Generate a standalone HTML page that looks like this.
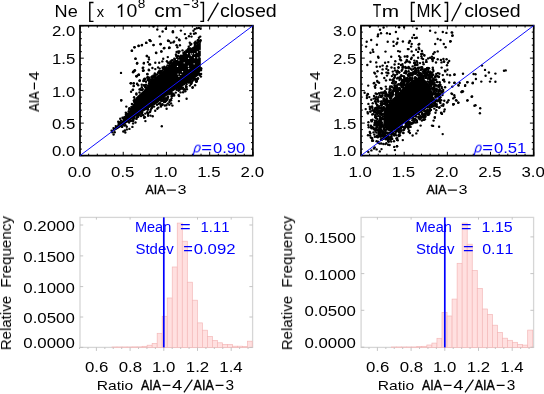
<!DOCTYPE html><html><head><meta charset="utf-8"><style>html,body{margin:0;padding:0;background:#fff;width:544px;height:394px;overflow:hidden}svg{display:block;font-family:"Liberation Sans",sans-serif;font-kerning:none;font-feature-settings:"kern" 0}text{will-change:transform}</style></head><body><svg width="544" height="394" viewBox="0 0 544 394" shape-rendering="auto">
<rect width="544" height="394" fill="#fff"/>
<path d="M80.00,155.60V151.80M80.00,25.70V29.50M88.64,155.60V153.70M88.64,25.70V27.60M97.29,155.60V153.70M97.29,25.70V27.60M105.94,155.60V153.70M105.94,25.70V27.60M114.58,155.60V153.70M114.58,25.70V27.60M123.22,155.60V151.80M123.22,25.70V29.50M131.87,155.60V153.70M131.87,25.70V27.60M140.52,155.60V153.70M140.52,25.70V27.60M149.16,155.60V153.70M149.16,25.70V27.60M157.81,155.60V153.70M157.81,25.70V27.60M166.45,155.60V151.80M166.45,25.70V29.50M175.10,155.60V153.70M175.10,25.70V27.60M183.74,155.60V153.70M183.74,25.70V27.60M192.38,155.60V153.70M192.38,25.70V27.60M201.03,155.60V153.70M201.03,25.70V27.60M209.68,155.60V151.80M209.68,25.70V29.50M218.32,155.60V153.70M218.32,25.70V27.60M226.97,155.60V153.70M226.97,25.70V27.60M235.61,155.60V153.70M235.61,25.70V27.60M244.26,155.60V153.70M244.26,25.70V27.60M252.90,155.60V151.80M252.90,25.70V29.50M80.00,155.60H83.80M252.90,155.60H249.10M80.00,149.10H81.90M252.90,149.10H251.00M80.00,142.61H81.90M252.90,142.61H251.00M80.00,136.11H81.90M252.90,136.11H251.00M80.00,129.62H81.90M252.90,129.62H251.00M80.00,123.12H83.80M252.90,123.12H249.10M80.00,116.63H81.90M252.90,116.63H251.00M80.00,110.13H81.90M252.90,110.13H251.00M80.00,103.64H81.90M252.90,103.64H251.00M80.00,97.14H81.90M252.90,97.14H251.00M80.00,90.65H83.80M252.90,90.65H249.10M80.00,84.15H81.90M252.90,84.15H251.00M80.00,77.66H81.90M252.90,77.66H251.00M80.00,71.16H81.90M252.90,71.16H251.00M80.00,64.67H81.90M252.90,64.67H251.00M80.00,58.17H83.80M252.90,58.17H249.10M80.00,51.68H81.90M252.90,51.68H251.00M80.00,45.18H81.90M252.90,45.18H251.00M80.00,38.69H81.90M252.90,38.69H251.00M80.00,32.19H81.90M252.90,32.19H251.00M80.00,25.70H83.80M252.90,25.70H249.10" stroke="#000" stroke-width="1.0" fill="none"/>
<rect x="80.0" y="25.7" width="172.90" height="129.90" fill="none" stroke="#000" stroke-width="1.7"/>
<path d="M361.00,155.60V151.80M361.00,25.60V29.40M369.63,155.60V153.70M369.63,25.60V27.50M378.27,155.60V153.70M378.27,25.60V27.50M386.91,155.60V153.70M386.91,25.60V27.50M395.54,155.60V153.70M395.54,25.60V27.50M404.18,155.60V151.80M404.18,25.60V29.40M412.81,155.60V153.70M412.81,25.60V27.50M421.45,155.60V153.70M421.45,25.60V27.50M430.08,155.60V153.70M430.08,25.60V27.50M438.72,155.60V153.70M438.72,25.60V27.50M447.35,155.60V151.80M447.35,25.60V29.40M455.99,155.60V153.70M455.99,25.60V27.50M464.62,155.60V153.70M464.62,25.60V27.50M473.25,155.60V153.70M473.25,25.60V27.50M481.89,155.60V153.70M481.89,25.60V27.50M490.53,155.60V151.80M490.53,25.60V29.40M499.16,155.60V153.70M499.16,25.60V27.50M507.80,155.60V153.70M507.80,25.60V27.50M516.43,155.60V153.70M516.43,25.60V27.50M525.07,155.60V153.70M525.07,25.60V27.50M533.70,155.60V151.80M533.70,25.60V29.40M361.00,155.60H364.80M533.70,155.60H529.90M361.00,149.10H362.90M533.70,149.10H531.80M361.00,142.60H362.90M533.70,142.60H531.80M361.00,136.10H362.90M533.70,136.10H531.80M361.00,129.60H362.90M533.70,129.60H531.80M361.00,123.10H364.80M533.70,123.10H529.90M361.00,116.60H362.90M533.70,116.60H531.80M361.00,110.10H362.90M533.70,110.10H531.80M361.00,103.60H362.90M533.70,103.60H531.80M361.00,97.10H362.90M533.70,97.10H531.80M361.00,90.60H364.80M533.70,90.60H529.90M361.00,84.10H362.90M533.70,84.10H531.80M361.00,77.60H362.90M533.70,77.60H531.80M361.00,71.10H362.90M533.70,71.10H531.80M361.00,64.60H362.90M533.70,64.60H531.80M361.00,58.10H364.80M533.70,58.10H529.90M361.00,51.60H362.90M533.70,51.60H531.80M361.00,45.10H362.90M533.70,45.10H531.80M361.00,38.60H362.90M533.70,38.60H531.80M361.00,32.10H362.90M533.70,32.10H531.80M361.00,25.60H364.80M533.70,25.60H529.90" stroke="#000" stroke-width="1.0" fill="none"/>
<rect x="361.0" y="25.6" width="172.70" height="130.00" fill="none" stroke="#000" stroke-width="1.7"/>
<g fill="#000"><circle cx="149.2" cy="81.4" r="1.2"/><circle cx="186.2" cy="87.2" r="1.2"/><circle cx="133.1" cy="123.4" r="1.2"/><circle cx="149.0" cy="83.7" r="1.2"/><circle cx="139.8" cy="114.7" r="1.2"/><circle cx="183.0" cy="87.8" r="1.2"/><circle cx="197.1" cy="42.8" r="1.2"/><circle cx="126.1" cy="114.9" r="1.2"/><circle cx="152.8" cy="79.4" r="1.2"/><circle cx="179.5" cy="89.1" r="1.2"/><circle cx="129.1" cy="122.5" r="1.2"/><circle cx="195.2" cy="43.3" r="1.2"/><circle cx="167.1" cy="98.3" r="1.2"/><circle cx="166.9" cy="61.2" r="1.2"/><circle cx="179.9" cy="88.1" r="1.2"/><circle cx="150.9" cy="81.5" r="1.2"/><circle cx="152.9" cy="79.5" r="1.2"/><circle cx="196.0" cy="79.0" r="1.2"/><circle cx="184.9" cy="89.3" r="1.2"/><circle cx="201.1" cy="74.0" r="1.2"/><circle cx="151.6" cy="108.2" r="1.2"/><circle cx="147.6" cy="112.6" r="1.2"/><circle cx="160.6" cy="71.1" r="1.2"/><circle cx="178.6" cy="95.0" r="1.2"/><circle cx="167.7" cy="103.6" r="1.2"/><circle cx="125.5" cy="125.3" r="1.2"/><circle cx="168.5" cy="62.9" r="1.2"/><circle cx="142.4" cy="114.9" r="1.2"/><circle cx="132.7" cy="120.0" r="1.2"/><circle cx="165.3" cy="68.5" r="1.2"/><circle cx="134.3" cy="101.9" r="1.2"/><circle cx="162.3" cy="104.9" r="1.2"/><circle cx="165.5" cy="68.4" r="1.2"/><circle cx="194.4" cy="79.2" r="1.2"/><circle cx="134.7" cy="99.2" r="1.2"/><circle cx="169.0" cy="65.8" r="1.2"/><circle cx="179.4" cy="89.9" r="1.2"/><circle cx="170.5" cy="61.5" r="1.2"/><circle cx="198.3" cy="42.0" r="1.2"/><circle cx="171.5" cy="92.4" r="1.2"/><circle cx="191.0" cy="83.9" r="1.2"/><circle cx="158.1" cy="72.8" r="1.2"/><circle cx="134.3" cy="117.9" r="1.2"/><circle cx="133.1" cy="120.9" r="1.2"/><circle cx="166.3" cy="105.2" r="1.2"/><circle cx="165.0" cy="100.1" r="1.2"/><circle cx="161.0" cy="106.5" r="1.2"/><circle cx="161.8" cy="126.3" r="1.2"/><circle cx="183.1" cy="92.3" r="1.2"/><circle cx="175.8" cy="92.6" r="1.2"/><circle cx="151.5" cy="80.8" r="1.2"/><circle cx="174.3" cy="58.8" r="1.2"/><circle cx="164.4" cy="68.3" r="1.2"/><circle cx="162.2" cy="100.3" r="1.2"/><circle cx="128.7" cy="111.3" r="1.2"/><circle cx="147.5" cy="85.6" r="1.2"/><circle cx="154.1" cy="106.6" r="1.2"/><circle cx="144.7" cy="85.8" r="1.2"/><circle cx="195.1" cy="44.1" r="1.2"/><circle cx="129.1" cy="108.9" r="1.2"/><circle cx="138.2" cy="115.9" r="1.2"/><circle cx="145.4" cy="121.1" r="1.2"/><circle cx="201.1" cy="68.2" r="1.2"/><circle cx="169.5" cy="94.0" r="1.2"/><circle cx="149.3" cy="79.8" r="1.2"/><circle cx="138.4" cy="115.1" r="1.2"/><circle cx="190.3" cy="48.4" r="1.2"/><circle cx="141.8" cy="90.0" r="1.2"/><circle cx="170.5" cy="61.9" r="1.2"/><circle cx="159.1" cy="71.6" r="1.2"/><circle cx="124.2" cy="125.5" r="1.2"/><circle cx="119.1" cy="122.9" r="1.2"/><circle cx="158.4" cy="107.6" r="1.2"/><circle cx="159.9" cy="73.6" r="1.2"/><circle cx="180.5" cy="92.4" r="1.2"/><circle cx="159.2" cy="71.5" r="1.2"/><circle cx="166.6" cy="67.6" r="1.2"/><circle cx="190.4" cy="44.9" r="1.2"/><circle cx="151.7" cy="80.3" r="1.2"/><circle cx="158.9" cy="71.7" r="1.2"/><circle cx="122.5" cy="117.8" r="1.2"/><circle cx="121.0" cy="120.7" r="1.2"/><circle cx="201.2" cy="69.1" r="1.2"/><circle cx="187.8" cy="49.8" r="1.2"/><circle cx="171.0" cy="93.5" r="1.2"/><circle cx="161.0" cy="72.5" r="1.2"/><circle cx="119.6" cy="122.4" r="1.2"/><circle cx="199.7" cy="75.3" r="1.2"/><circle cx="126.0" cy="114.6" r="1.2"/><circle cx="134.3" cy="101.3" r="1.2"/><circle cx="186.4" cy="50.7" r="1.2"/><circle cx="169.6" cy="65.1" r="1.2"/><circle cx="178.3" cy="88.6" r="1.2"/><circle cx="159.2" cy="72.0" r="1.2"/><circle cx="192.7" cy="87.2" r="1.2"/><circle cx="111.6" cy="130.7" r="1.2"/><circle cx="167.4" cy="99.2" r="1.2"/><circle cx="160.3" cy="103.4" r="1.2"/><circle cx="143.2" cy="115.2" r="1.2"/><circle cx="136.5" cy="118.0" r="1.2"/><circle cx="158.7" cy="103.8" r="1.2"/><circle cx="130.5" cy="120.9" r="1.2"/><circle cx="188.1" cy="49.7" r="1.2"/><circle cx="147.9" cy="62.1" r="1.2"/><circle cx="162.5" cy="104.2" r="1.2"/><circle cx="155.3" cy="74.7" r="1.2"/><circle cx="123.4" cy="118.5" r="1.2"/><circle cx="122.1" cy="126.9" r="1.2"/><circle cx="155.2" cy="75.4" r="1.2"/><circle cx="171.4" cy="62.4" r="1.2"/><circle cx="156.7" cy="74.6" r="1.2"/><circle cx="133.8" cy="100.6" r="1.2"/><circle cx="197.7" cy="79.1" r="1.2"/><circle cx="154.8" cy="73.5" r="1.2"/><circle cx="197.8" cy="40.2" r="1.2"/><circle cx="137.2" cy="115.7" r="1.2"/><circle cx="176.6" cy="89.8" r="1.2"/><circle cx="114.7" cy="132.3" r="1.2"/><circle cx="171.4" cy="96.1" r="1.2"/><circle cx="195.5" cy="41.7" r="1.2"/><circle cx="164.3" cy="66.7" r="1.2"/><circle cx="161.7" cy="100.0" r="1.2"/><circle cx="178.6" cy="53.0" r="1.2"/><circle cx="196.9" cy="79.8" r="1.2"/><circle cx="170.0" cy="63.5" r="1.2"/><circle cx="179.8" cy="88.9" r="1.2"/><circle cx="157.0" cy="104.7" r="1.2"/><circle cx="144.4" cy="85.6" r="1.2"/><circle cx="195.3" cy="43.5" r="1.2"/><circle cx="142.8" cy="89.1" r="1.2"/><circle cx="149.9" cy="112.1" r="1.2"/><circle cx="185.9" cy="86.1" r="1.2"/><circle cx="141.0" cy="116.1" r="1.2"/><circle cx="124.9" cy="117.0" r="1.2"/><circle cx="191.3" cy="43.9" r="1.2"/><circle cx="174.2" cy="95.6" r="1.2"/><circle cx="195.3" cy="43.2" r="1.2"/><circle cx="133.4" cy="119.7" r="1.2"/><circle cx="163.2" cy="99.7" r="1.2"/><circle cx="118.5" cy="124.1" r="1.2"/><circle cx="200.9" cy="70.2" r="1.2"/><circle cx="132.7" cy="104.4" r="1.2"/><circle cx="191.4" cy="83.3" r="1.2"/><circle cx="162.6" cy="67.4" r="1.2"/><circle cx="167.9" cy="96.5" r="1.2"/><circle cx="163.1" cy="100.8" r="1.2"/><circle cx="188.7" cy="46.7" r="1.2"/><circle cx="150.5" cy="115.6" r="1.2"/><circle cx="163.6" cy="68.5" r="1.2"/><circle cx="161.0" cy="71.4" r="1.2"/><circle cx="159.9" cy="103.3" r="1.2"/><circle cx="141.9" cy="113.4" r="1.2"/><circle cx="171.8" cy="94.0" r="1.2"/><circle cx="171.6" cy="60.5" r="1.2"/><circle cx="192.7" cy="80.8" r="1.2"/><circle cx="130.0" cy="109.0" r="1.2"/><circle cx="126.8" cy="126.8" r="1.2"/><circle cx="113.5" cy="128.1" r="1.2"/><circle cx="140.4" cy="89.2" r="1.2"/><circle cx="163.5" cy="98.9" r="1.2"/><circle cx="196.3" cy="81.9" r="1.2"/><circle cx="115.8" cy="126.1" r="1.2"/><circle cx="199.7" cy="74.0" r="1.2"/><circle cx="157.4" cy="74.4" r="1.2"/><circle cx="148.2" cy="113.8" r="1.2"/><circle cx="136.4" cy="118.9" r="1.2"/><circle cx="162.3" cy="61.4" r="1.2"/><circle cx="152.1" cy="76.4" r="1.2"/><circle cx="180.2" cy="88.5" r="1.2"/><circle cx="149.4" cy="77.8" r="1.2"/><circle cx="168.0" cy="97.1" r="1.2"/><circle cx="200.9" cy="76.6" r="1.2"/><circle cx="170.5" cy="63.2" r="1.2"/><circle cx="153.5" cy="75.5" r="1.2"/><circle cx="145.5" cy="86.4" r="1.2"/><circle cx="149.9" cy="82.7" r="1.2"/><circle cx="177.4" cy="56.3" r="1.2"/><circle cx="181.0" cy="55.7" r="1.2"/><circle cx="143.3" cy="81.0" r="1.2"/><circle cx="142.2" cy="112.4" r="1.2"/><circle cx="136.4" cy="94.6" r="1.2"/><circle cx="165.2" cy="98.7" r="1.2"/><circle cx="165.0" cy="98.1" r="1.2"/><circle cx="197.0" cy="43.6" r="1.2"/><circle cx="195.8" cy="80.7" r="1.2"/><circle cx="164.9" cy="101.9" r="1.2"/><circle cx="174.0" cy="94.4" r="1.2"/><circle cx="163.0" cy="68.5" r="1.2"/><circle cx="150.2" cy="111.4" r="1.2"/><circle cx="179.4" cy="56.7" r="1.2"/><circle cx="200.6" cy="40.2" r="1.2"/><circle cx="191.7" cy="82.3" r="1.2"/><circle cx="131.6" cy="120.7" r="1.2"/><circle cx="155.0" cy="76.5" r="1.2"/><circle cx="181.1" cy="87.5" r="1.2"/><circle cx="124.4" cy="117.1" r="1.2"/><circle cx="177.1" cy="57.9" r="1.2"/><circle cx="170.7" cy="99.8" r="1.2"/><circle cx="137.1" cy="117.1" r="1.2"/><circle cx="131.4" cy="106.9" r="1.2"/><circle cx="167.6" cy="97.8" r="1.2"/><circle cx="164.9" cy="101.2" r="1.2"/><circle cx="164.8" cy="105.5" r="1.2"/><circle cx="167.8" cy="62.5" r="1.2"/><circle cx="172.6" cy="60.2" r="1.2"/><circle cx="192.5" cy="87.8" r="1.2"/><circle cx="149.9" cy="82.6" r="1.2"/><circle cx="155.2" cy="110.8" r="1.2"/><circle cx="139.5" cy="92.5" r="1.2"/><circle cx="189.4" cy="48.8" r="1.2"/><circle cx="176.7" cy="58.2" r="1.2"/><circle cx="184.8" cy="52.0" r="1.2"/><circle cx="173.4" cy="94.9" r="1.2"/><circle cx="172.4" cy="94.0" r="1.2"/><circle cx="139.1" cy="114.5" r="1.2"/><circle cx="189.0" cy="82.4" r="1.2"/><circle cx="148.3" cy="79.1" r="1.2"/><circle cx="151.5" cy="76.9" r="1.2"/><circle cx="186.9" cy="89.3" r="1.2"/><circle cx="148.1" cy="115.8" r="1.2"/><circle cx="146.0" cy="84.6" r="1.2"/><circle cx="149.9" cy="82.5" r="1.2"/><circle cx="145.2" cy="79.0" r="1.2"/><circle cx="147.6" cy="80.1" r="1.2"/><circle cx="169.8" cy="100.7" r="1.2"/><circle cx="186.7" cy="50.9" r="1.2"/><circle cx="141.8" cy="87.2" r="1.2"/><circle cx="199.6" cy="40.7" r="1.2"/><circle cx="188.5" cy="49.0" r="1.2"/><circle cx="178.9" cy="101.1" r="1.2"/><circle cx="176.0" cy="54.5" r="1.2"/><circle cx="174.9" cy="59.6" r="1.2"/><circle cx="134.1" cy="97.2" r="1.2"/><circle cx="181.3" cy="87.0" r="1.2"/><circle cx="188.7" cy="49.1" r="1.2"/><circle cx="141.8" cy="89.9" r="1.2"/><circle cx="133.3" cy="118.9" r="1.2"/><circle cx="123.7" cy="118.8" r="1.2"/><circle cx="188.9" cy="82.4" r="1.2"/><circle cx="152.0" cy="79.4" r="1.2"/><circle cx="147.9" cy="109.0" r="1.2"/><circle cx="190.5" cy="81.8" r="1.2"/><circle cx="161.5" cy="101.1" r="1.2"/><circle cx="138.2" cy="116.7" r="1.2"/><circle cx="186.5" cy="86.6" r="1.2"/><circle cx="163.9" cy="69.6" r="1.2"/><circle cx="161.2" cy="100.8" r="1.2"/><circle cx="153.3" cy="77.3" r="1.2"/><circle cx="182.5" cy="50.4" r="1.2"/><circle cx="179.5" cy="51.5" r="1.2"/><circle cx="183.4" cy="53.0" r="1.2"/><circle cx="165.9" cy="101.1" r="1.2"/><circle cx="145.5" cy="87.2" r="1.2"/><circle cx="147.9" cy="113.7" r="1.2"/><circle cx="189.9" cy="85.6" r="1.2"/><circle cx="162.2" cy="70.8" r="1.2"/><circle cx="186.7" cy="84.1" r="1.2"/><circle cx="147.5" cy="109.6" r="1.2"/><circle cx="191.2" cy="81.5" r="1.2"/><circle cx="152.3" cy="78.1" r="1.2"/><circle cx="199.7" cy="74.0" r="1.2"/><circle cx="161.5" cy="100.3" r="1.2"/><circle cx="173.2" cy="93.7" r="1.2"/><circle cx="171.7" cy="98.1" r="1.2"/><circle cx="167.5" cy="65.5" r="1.2"/><circle cx="181.8" cy="87.8" r="1.2"/><circle cx="166.3" cy="67.3" r="1.2"/><circle cx="169.3" cy="93.9" r="1.2"/><circle cx="150.8" cy="109.8" r="1.2"/><circle cx="195.1" cy="85.3" r="1.2"/><circle cx="126.9" cy="113.5" r="1.2"/><circle cx="144.0" cy="80.9" r="1.2"/><circle cx="145.6" cy="87.4" r="1.2"/><circle cx="178.3" cy="89.9" r="1.2"/><circle cx="150.5" cy="79.4" r="1.2"/><circle cx="194.5" cy="42.9" r="1.2"/><circle cx="159.7" cy="68.6" r="1.2"/><circle cx="147.3" cy="112.3" r="1.2"/><circle cx="182.0" cy="88.7" r="1.2"/><circle cx="146.0" cy="81.8" r="1.2"/><circle cx="154.3" cy="77.0" r="1.2"/><circle cx="120.2" cy="122.5" r="1.2"/><circle cx="152.7" cy="116.3" r="1.2"/><circle cx="112.3" cy="132.2" r="1.2"/><circle cx="194.8" cy="45.1" r="1.2"/><circle cx="178.2" cy="56.1" r="1.2"/><circle cx="154.5" cy="77.3" r="1.2"/><circle cx="185.3" cy="91.3" r="1.2"/><circle cx="131.9" cy="103.9" r="1.2"/><circle cx="176.1" cy="55.8" r="1.2"/><circle cx="149.5" cy="40.1" r="1.2"/><circle cx="146.4" cy="42.9" r="1.2"/><circle cx="141.8" cy="45.3" r="1.2"/><circle cx="138.6" cy="46.0" r="1.2"/><circle cx="134.5" cy="47.3" r="1.2"/><circle cx="131.7" cy="50.8" r="1.2"/><circle cx="147.0" cy="56.0" r="1.2"/><circle cx="148.8" cy="57.4" r="1.2"/><circle cx="135.5" cy="58.8" r="1.2"/><circle cx="137.2" cy="63.0" r="1.2"/><circle cx="143.9" cy="63.0" r="1.2"/><circle cx="149.2" cy="64.4" r="1.2"/><circle cx="143.2" cy="67.6" r="1.2"/><circle cx="143.6" cy="70.4" r="1.2"/><circle cx="148.8" cy="69.7" r="1.2"/><circle cx="134.1" cy="71.1" r="1.2"/><circle cx="133.1" cy="72.2" r="1.2"/><circle cx="121.0" cy="72.9" r="1.2"/><circle cx="147.4" cy="73.9" r="1.2"/><circle cx="138.3" cy="75.0" r="1.2"/><circle cx="136.6" cy="76.3" r="1.2"/><circle cx="144.6" cy="78.8" r="1.2"/><circle cx="147.8" cy="77.0" r="1.2"/><circle cx="121.2" cy="100.5" r="1.2"/><circle cx="113.6" cy="134.5" r="1.2"/><circle cx="123.3" cy="131.5" r="1.2"/><circle cx="124.8" cy="130.5" r="1.2"/><circle cx="129.4" cy="128.9" r="1.2"/><circle cx="132.4" cy="126.9" r="1.2"/><circle cx="135.5" cy="122.5" r="1.2"/><circle cx="128.4" cy="121.8" r="1.2"/><circle cx="144.1" cy="117.8" r="1.2"/><circle cx="125.3" cy="132.5" r="1.2"/><circle cx="126.8" cy="129.4" r="1.2"/><circle cx="126.3" cy="106.6" r="1.2"/><circle cx="129.4" cy="108.1" r="1.2"/><circle cx="125.8" cy="112.7" r="1.2"/><circle cx="120.2" cy="118.8" r="1.2"/><circle cx="118.2" cy="121.8" r="1.2"/><circle cx="196.8" cy="81.1" r="1.2"/><circle cx="198.0" cy="78.3" r="1.2"/><circle cx="194.0" cy="79.4" r="1.2"/><circle cx="183.7" cy="89.7" r="1.2"/><circle cx="178.6" cy="90.8" r="1.2"/><circle cx="179.1" cy="96.0" r="1.2"/><circle cx="186.6" cy="98.8" r="1.2"/><circle cx="172.3" cy="95.4" r="1.2"/><circle cx="170.6" cy="100.0" r="1.2"/><circle cx="171.1" cy="103.4" r="1.2"/><circle cx="132.0" cy="50.8" r="1.2"/><circle cx="134.5" cy="47.3" r="1.2"/><circle cx="138.6" cy="45.7" r="1.2"/><circle cx="142.0" cy="45.0" r="1.2"/><circle cx="146.1" cy="42.8" r="1.2"/><circle cx="149.8" cy="40.1" r="1.2"/><circle cx="150.6" cy="41.1" r="1.2"/><circle cx="153.5" cy="45.0" r="1.2"/><circle cx="157.3" cy="29.5" r="1.2"/><circle cx="162.6" cy="31.5" r="1.2"/><circle cx="159.7" cy="36.4" r="1.2"/><circle cx="166.0" cy="28.7" r="1.2"/><circle cx="168.0" cy="40.7" r="1.2"/><circle cx="160.6" cy="44.2" r="1.2"/><circle cx="163.9" cy="48.2" r="1.2"/><circle cx="169.3" cy="47.7" r="1.2"/><circle cx="161.4" cy="51.5" r="1.2"/><circle cx="156.3" cy="53.0" r="1.2"/><circle cx="153.5" cy="26.5" r="1.2"/><circle cx="172.9" cy="31.2" r="1.2"/><circle cx="172.9" cy="32.3" r="1.2"/><circle cx="180.9" cy="30.6" r="1.2"/><circle cx="165.8" cy="28.7" r="1.2"/><circle cx="176.6" cy="37.6" r="1.2"/><circle cx="179.1" cy="39.5" r="1.2"/><circle cx="179.5" cy="40.3" r="1.2"/><circle cx="168.3" cy="40.7" r="1.2"/><circle cx="170.8" cy="42.8" r="1.2"/><circle cx="173.3" cy="42.4" r="1.2"/><circle cx="174.1" cy="41.5" r="1.2"/><circle cx="169.5" cy="47.7" r="1.2"/><circle cx="176.6" cy="45.3" r="1.2"/><circle cx="179.9" cy="45.3" r="1.2"/><circle cx="177.4" cy="47.3" r="1.2"/><circle cx="176.6" cy="51.9" r="1.2"/><circle cx="178.2" cy="51.5" r="1.2"/><circle cx="184.9" cy="34.1" r="1.2"/><circle cx="186.1" cy="38.2" r="1.2"/><circle cx="189.0" cy="36.2" r="1.2"/><circle cx="190.6" cy="33.7" r="1.2"/><circle cx="191.5" cy="36.6" r="1.2"/><circle cx="193.5" cy="30.8" r="1.2"/><circle cx="194.8" cy="29.1" r="1.2"/><circle cx="196.8" cy="28.3" r="1.2"/><circle cx="198.9" cy="27.9" r="1.2"/><circle cx="200.6" cy="28.7" r="1.2"/><circle cx="194.0" cy="33.7" r="1.2"/><circle cx="195.6" cy="33.3" r="1.2"/><circle cx="189.8" cy="42.8" r="1.2"/><circle cx="200.2" cy="36.6" r="1.2"/><circle cx="198.9" cy="37.8" r="1.2"/><circle cx="198.1" cy="40.3" r="1.2"/><circle cx="200.2" cy="41.5" r="1.2"/><circle cx="135.5" cy="58.7" r="1.2"/><circle cx="137.1" cy="63.4" r="1.2"/><circle cx="143.0" cy="70.8" r="1.2"/><circle cx="135.0" cy="70.5" r="1.2"/><circle cx="133.0" cy="71.9" r="1.2"/><circle cx="138.9" cy="74.7" r="1.2"/><circle cx="136.8" cy="76.0" r="1.2"/><circle cx="139.5" cy="80.7" r="1.2"/><circle cx="143.9" cy="79.4" r="1.2"/><circle cx="130.9" cy="83.2" r="1.2"/><circle cx="133.7" cy="83.2" r="1.2"/><circle cx="133.7" cy="86.1" r="1.2"/><circle cx="137.1" cy="83.8" r="1.2"/><circle cx="138.2" cy="85.2" r="1.2"/><circle cx="141.7" cy="84.7" r="1.2"/><circle cx="143.9" cy="85.2" r="1.2"/><circle cx="133.0" cy="89.6" r="1.2"/><circle cx="140.4" cy="89.6" r="1.2"/><circle cx="133.7" cy="85.9" r="1.2"/><circle cx="131.1" cy="91.7" r="1.2"/><circle cx="132.8" cy="89.9" r="1.2"/><circle cx="121.3" cy="100.1" r="1.2"/><circle cx="136.4" cy="93.4" r="1.2"/><circle cx="139.5" cy="89.4" r="1.2"/><circle cx="144.4" cy="117.0" r="1.2"/><circle cx="145.3" cy="113.6" r="1.2"/><circle cx="144.9" cy="117.2" r="1.2"/><circle cx="141.3" cy="113.6" r="1.2"/><circle cx="157.3" cy="108.8" r="1.2"/><circle cx="160.9" cy="105.2" r="1.2"/><circle cx="166.6" cy="108.8" r="1.2"/><circle cx="169.3" cy="104.8" r="1.2"/><circle cx="172.4" cy="105.6" r="1.2"/><circle cx="171.1" cy="100.3" r="1.2"/><circle cx="172.4" cy="95.9" r="1.2"/><circle cx="179.0" cy="95.9" r="1.2"/><circle cx="166.6" cy="100.3" r="1.2"/><circle cx="164.0" cy="102.1" r="1.2"/><circle cx="169.3" cy="102.1" r="1.2"/><circle cx="148.0" cy="109.6" r="1.2"/><circle cx="152.4" cy="107.0" r="1.2"/><circle cx="146.7" cy="56.0" r="1.2"/><circle cx="149.0" cy="59.4" r="1.2"/><circle cx="137.0" cy="63.4" r="1.2"/><circle cx="143.8" cy="63.4" r="1.2"/><circle cx="150.1" cy="64.5" r="1.2"/><circle cx="155.3" cy="62.8" r="1.2"/><circle cx="159.2" cy="62.8" r="1.2"/><circle cx="163.2" cy="58.8" r="1.2"/><circle cx="167.8" cy="57.1" r="1.2"/><circle cx="142.7" cy="68.0" r="1.2"/><circle cx="143.3" cy="70.6" r="1.2"/><circle cx="133.6" cy="71.4" r="1.2"/><circle cx="134.7" cy="70.3" r="1.2"/><circle cx="138.7" cy="74.8" r="1.2"/><circle cx="136.4" cy="76.3" r="1.2"/><circle cx="147.3" cy="74.2" r="1.2"/><circle cx="149.0" cy="70.3" r="1.2"/><circle cx="152.4" cy="68.0" r="1.2"/><circle cx="155.3" cy="69.1" r="1.2"/><circle cx="158.1" cy="67.4" r="1.2"/><circle cx="139.8" cy="80.5" r="1.2"/><circle cx="130.7" cy="83.2" r="1.2"/><circle cx="133.6" cy="83.4" r="1.2"/><circle cx="137.0" cy="84.0" r="1.2"/><circle cx="144.4" cy="80.0" r="1.2"/><circle cx="149.0" cy="80.0" r="1.2"/><circle cx="147.3" cy="77.7" r="1.2"/><circle cx="156.0" cy="52.8" r="1.2"/><circle cx="161.3" cy="51.4" r="1.2"/><circle cx="160.6" cy="44.0" r="1.2"/><circle cx="164.4" cy="48.0" r="1.2"/><circle cx="169.0" cy="41.1" r="1.2"/><circle cx="169.0" cy="48.0" r="1.2"/><circle cx="153.5" cy="45.1" r="1.2"/><circle cx="150.3" cy="40.9" r="1.2"/><circle cx="196.9" cy="81.1" r="1.2"/><path d="M111.0,131.5L113.5,128.5L117.5,125.0L121.5,121.5L124.5,118.0L127.5,113.5L130.5,108.5L133.7,103.5L136.0,97.5L139.1,94.5L143.0,91.0L147.2,86.2L151.2,81.2L155.3,77.1L160.4,73.5L165.0,69.0L170.0,65.0L173.1,61.0L178.2,58.0L183.0,54.0L188.3,50.0L193.4,46.5L198.5,43.0L200.8,41.0L200.8,70.0L198.5,75.5L194.0,79.0L189.4,82.0L184.8,85.0L180.3,87.5L175.0,90.0L170.5,93.0L166.5,96.0L161.3,99.9L157.7,103.0L153.3,106.1L148.9,108.3L144.4,111.0L140.0,113.5L135.5,116.8L130.4,120.3L125.3,123.9L120.2,127.4L115.2,130.5L112.1,132.0Z" fill="#000"/><circle cx="191.3" cy="55.5" r="0.65" fill="#fff"/><circle cx="197.4" cy="52.0" r="0.65" fill="#fff"/><circle cx="200.4" cy="57.0" r="0.65" fill="#fff"/><circle cx="178.9" cy="60.1" r="0.65" fill="#fff"/><circle cx="188.4" cy="66.2" r="0.65" fill="#fff"/><circle cx="187.4" cy="53.6" r="0.65" fill="#fff"/><circle cx="176.6" cy="59.4" r="0.65" fill="#fff"/><circle cx="177.5" cy="66.4" r="0.65" fill="#fff"/><circle cx="194.5" cy="57.7" r="0.65" fill="#fff"/><circle cx="182.5" cy="71.7" r="0.65" fill="#fff"/><circle cx="192.3" cy="53.8" r="0.65" fill="#fff"/><circle cx="188.6" cy="58.3" r="0.65" fill="#fff"/><circle cx="178.0" cy="74.1" r="0.65" fill="#fff"/><circle cx="188.7" cy="68.5" r="0.65" fill="#fff"/><circle cx="197.7" cy="57.8" r="0.65" fill="#fff"/><circle cx="180.8" cy="74.3" r="0.65" fill="#fff"/><circle cx="178.9" cy="76.3" r="0.65" fill="#fff"/><circle cx="194.1" cy="63.8" r="0.65" fill="#fff"/><circle cx="200.1" cy="50.3" r="0.65" fill="#fff"/><circle cx="194.7" cy="53.6" r="0.65" fill="#fff"/><circle cx="184.2" cy="62.8" r="0.65" fill="#fff"/><circle cx="190.7" cy="54.0" r="0.65" fill="#fff"/><circle cx="371.9" cy="120.9" r="1.2"/><circle cx="394.6" cy="89.6" r="1.2"/><circle cx="379.7" cy="135.8" r="1.2"/><circle cx="411.7" cy="73.5" r="1.2"/><circle cx="403.5" cy="130.1" r="1.2"/><circle cx="406.0" cy="73.4" r="1.2"/><circle cx="406.6" cy="126.5" r="1.2"/><circle cx="387.6" cy="139.0" r="1.2"/><circle cx="405.0" cy="127.7" r="1.2"/><circle cx="388.3" cy="138.9" r="1.2"/><circle cx="373.0" cy="140.8" r="1.2"/><circle cx="439.5" cy="107.3" r="1.2"/><circle cx="443.2" cy="89.9" r="1.2"/><circle cx="389.4" cy="95.3" r="1.2"/><circle cx="375.8" cy="129.5" r="1.2"/><circle cx="410.1" cy="75.0" r="1.2"/><circle cx="385.9" cy="139.2" r="1.2"/><circle cx="437.5" cy="82.0" r="1.2"/><circle cx="400.3" cy="77.7" r="1.2"/><circle cx="409.1" cy="126.2" r="1.2"/><circle cx="394.2" cy="146.9" r="1.2"/><circle cx="390.7" cy="137.0" r="1.2"/><circle cx="431.3" cy="75.2" r="1.2"/><circle cx="425.3" cy="114.0" r="1.2"/><circle cx="429.0" cy="68.3" r="1.2"/><circle cx="415.4" cy="73.7" r="1.2"/><circle cx="441.1" cy="112.8" r="1.2"/><circle cx="439.6" cy="89.2" r="1.2"/><circle cx="372.1" cy="140.8" r="1.2"/><circle cx="370.3" cy="133.3" r="1.2"/><circle cx="440.0" cy="84.4" r="1.2"/><circle cx="412.6" cy="135.5" r="1.2"/><circle cx="409.3" cy="125.3" r="1.2"/><circle cx="400.6" cy="84.8" r="1.2"/><circle cx="438.4" cy="93.6" r="1.2"/><circle cx="374.8" cy="86.5" r="1.2"/><circle cx="376.5" cy="110.3" r="1.2"/><circle cx="421.3" cy="67.3" r="1.2"/><circle cx="428.1" cy="69.7" r="1.2"/><circle cx="393.4" cy="91.5" r="1.2"/><circle cx="373.7" cy="128.1" r="1.2"/><circle cx="427.7" cy="72.5" r="1.2"/><circle cx="411.8" cy="69.8" r="1.2"/><circle cx="388.7" cy="141.2" r="1.2"/><circle cx="382.2" cy="92.7" r="1.2"/><circle cx="368.4" cy="103.9" r="1.2"/><circle cx="428.0" cy="111.9" r="1.2"/><circle cx="377.8" cy="100.2" r="1.2"/><circle cx="435.8" cy="104.9" r="1.2"/><circle cx="399.4" cy="78.4" r="1.2"/><circle cx="430.3" cy="71.7" r="1.2"/><circle cx="375.5" cy="112.3" r="1.2"/><circle cx="389.8" cy="89.9" r="1.2"/><circle cx="423.1" cy="59.1" r="1.2"/><circle cx="402.2" cy="80.6" r="1.2"/><circle cx="376.0" cy="99.5" r="1.2"/><circle cx="406.9" cy="126.1" r="1.2"/><circle cx="405.8" cy="78.6" r="1.2"/><circle cx="408.9" cy="42.8" r="1.2"/><circle cx="387.4" cy="139.0" r="1.2"/><circle cx="409.4" cy="75.2" r="1.2"/><circle cx="378.9" cy="111.0" r="1.2"/><circle cx="405.8" cy="68.2" r="1.2"/><circle cx="391.7" cy="138.3" r="1.2"/><circle cx="386.4" cy="99.9" r="1.2"/><circle cx="429.4" cy="74.8" r="1.2"/><circle cx="378.0" cy="101.5" r="1.2"/><circle cx="404.2" cy="127.8" r="1.2"/><circle cx="385.7" cy="100.2" r="1.2"/><circle cx="394.0" cy="134.9" r="1.2"/><circle cx="408.9" cy="125.7" r="1.2"/><circle cx="376.6" cy="122.6" r="1.2"/><circle cx="404.5" cy="77.4" r="1.2"/><circle cx="401.9" cy="75.9" r="1.2"/><circle cx="373.5" cy="132.4" r="1.2"/><circle cx="376.6" cy="120.8" r="1.2"/><circle cx="394.3" cy="135.6" r="1.2"/><circle cx="379.8" cy="95.3" r="1.2"/><circle cx="398.7" cy="63.9" r="1.2"/><circle cx="421.9" cy="69.2" r="1.2"/><circle cx="405.9" cy="79.6" r="1.2"/><circle cx="390.4" cy="138.8" r="1.2"/><circle cx="410.5" cy="73.1" r="1.2"/><circle cx="439.0" cy="97.1" r="1.2"/><circle cx="417.4" cy="62.7" r="1.2"/><circle cx="418.9" cy="118.2" r="1.2"/><circle cx="393.2" cy="83.4" r="1.2"/><circle cx="366.9" cy="98.0" r="1.2"/><circle cx="413.8" cy="73.4" r="1.2"/><circle cx="401.0" cy="78.7" r="1.2"/><circle cx="375.2" cy="122.5" r="1.2"/><circle cx="438.5" cy="96.7" r="1.2"/><circle cx="386.7" cy="98.2" r="1.2"/><circle cx="394.7" cy="86.8" r="1.2"/><circle cx="445.0" cy="70.8" r="1.2"/><circle cx="426.5" cy="73.1" r="1.2"/><circle cx="442.2" cy="92.5" r="1.2"/><circle cx="403.0" cy="80.0" r="1.2"/><circle cx="387.9" cy="139.8" r="1.2"/><circle cx="410.4" cy="123.2" r="1.2"/><circle cx="396.2" cy="86.7" r="1.2"/><circle cx="385.2" cy="93.8" r="1.2"/><circle cx="395.1" cy="89.8" r="1.2"/><circle cx="374.9" cy="120.8" r="1.2"/><circle cx="424.2" cy="55.1" r="1.2"/><circle cx="412.6" cy="66.4" r="1.2"/><circle cx="390.6" cy="95.8" r="1.2"/><circle cx="438.6" cy="92.4" r="1.2"/><circle cx="391.4" cy="139.0" r="1.2"/><circle cx="383.4" cy="92.5" r="1.2"/><circle cx="378.5" cy="132.1" r="1.2"/><circle cx="439.8" cy="84.6" r="1.2"/><circle cx="386.6" cy="94.4" r="1.2"/><circle cx="385.2" cy="95.6" r="1.2"/><circle cx="437.5" cy="89.6" r="1.2"/><circle cx="378.5" cy="97.3" r="1.2"/><circle cx="394.6" cy="64.5" r="1.2"/><circle cx="398.5" cy="67.2" r="1.2"/><circle cx="433.6" cy="120.6" r="1.2"/><circle cx="430.9" cy="109.9" r="1.2"/><circle cx="430.2" cy="73.6" r="1.2"/><circle cx="427.2" cy="72.8" r="1.2"/><circle cx="388.2" cy="70.1" r="1.2"/><circle cx="424.6" cy="69.4" r="1.2"/><circle cx="377.3" cy="104.9" r="1.2"/><circle cx="367.9" cy="113.4" r="1.2"/><circle cx="408.0" cy="78.6" r="1.2"/><circle cx="438.9" cy="96.2" r="1.2"/><circle cx="441.5" cy="91.1" r="1.2"/><circle cx="397.5" cy="84.7" r="1.2"/><circle cx="428.1" cy="113.2" r="1.2"/><circle cx="388.0" cy="95.1" r="1.2"/><circle cx="415.7" cy="72.6" r="1.2"/><circle cx="423.6" cy="64.2" r="1.2"/><circle cx="391.7" cy="86.5" r="1.2"/><circle cx="390.2" cy="86.5" r="1.2"/><circle cx="399.2" cy="72.3" r="1.2"/><circle cx="381.8" cy="139.8" r="1.2"/><circle cx="435.2" cy="102.9" r="1.2"/><circle cx="405.3" cy="79.5" r="1.2"/><circle cx="416.0" cy="68.6" r="1.2"/><circle cx="385.8" cy="86.6" r="1.2"/><circle cx="442.5" cy="95.0" r="1.2"/><circle cx="431.6" cy="72.7" r="1.2"/><circle cx="415.6" cy="72.8" r="1.2"/><circle cx="387.5" cy="94.9" r="1.2"/><circle cx="383.7" cy="100.5" r="1.2"/><circle cx="406.5" cy="72.0" r="1.2"/><circle cx="436.2" cy="74.0" r="1.2"/><circle cx="410.6" cy="74.9" r="1.2"/><circle cx="438.5" cy="76.8" r="1.2"/><circle cx="383.0" cy="138.8" r="1.2"/><circle cx="404.0" cy="81.2" r="1.2"/><circle cx="430.4" cy="110.0" r="1.2"/><circle cx="441.8" cy="88.4" r="1.2"/><circle cx="402.0" cy="80.8" r="1.2"/><circle cx="398.8" cy="131.7" r="1.2"/><circle cx="368.4" cy="122.2" r="1.2"/><circle cx="414.1" cy="122.2" r="1.2"/><circle cx="397.5" cy="88.3" r="1.2"/><circle cx="371.5" cy="138.0" r="1.2"/><circle cx="370.6" cy="111.5" r="1.2"/><circle cx="396.0" cy="82.0" r="1.2"/><circle cx="403.3" cy="132.8" r="1.2"/><circle cx="425.6" cy="115.8" r="1.2"/><circle cx="375.2" cy="130.7" r="1.2"/><circle cx="377.8" cy="137.2" r="1.2"/><circle cx="390.6" cy="92.8" r="1.2"/><circle cx="389.3" cy="92.9" r="1.2"/><circle cx="376.9" cy="93.9" r="1.2"/><circle cx="416.8" cy="72.1" r="1.2"/><circle cx="439.5" cy="85.9" r="1.2"/><circle cx="413.8" cy="72.1" r="1.2"/><circle cx="403.4" cy="133.1" r="1.2"/><circle cx="396.6" cy="135.4" r="1.2"/><circle cx="393.4" cy="90.3" r="1.2"/><circle cx="373.9" cy="129.2" r="1.2"/><circle cx="408.3" cy="128.8" r="1.2"/><circle cx="414.9" cy="65.3" r="1.2"/><circle cx="428.1" cy="58.4" r="1.2"/><circle cx="390.7" cy="93.5" r="1.2"/><circle cx="443.1" cy="91.4" r="1.2"/><circle cx="414.1" cy="63.0" r="1.2"/><circle cx="427.9" cy="68.0" r="1.2"/><circle cx="438.5" cy="100.3" r="1.2"/><circle cx="377.0" cy="108.5" r="1.2"/><circle cx="376.6" cy="126.0" r="1.2"/><circle cx="438.7" cy="77.1" r="1.2"/><circle cx="439.7" cy="82.3" r="1.2"/><circle cx="377.1" cy="109.0" r="1.2"/><circle cx="371.6" cy="128.2" r="1.2"/><circle cx="435.4" cy="106.1" r="1.2"/><circle cx="423.7" cy="115.9" r="1.2"/><circle cx="394.0" cy="88.1" r="1.2"/><circle cx="383.7" cy="98.7" r="1.2"/><circle cx="393.9" cy="89.0" r="1.2"/><circle cx="372.1" cy="106.5" r="1.2"/><circle cx="389.8" cy="88.2" r="1.2"/><circle cx="424.0" cy="119.7" r="1.2"/><circle cx="398.5" cy="67.8" r="1.2"/><circle cx="403.9" cy="76.3" r="1.2"/><circle cx="425.3" cy="116.9" r="1.2"/><circle cx="386.3" cy="143.2" r="1.2"/><circle cx="433.6" cy="105.7" r="1.2"/><circle cx="379.1" cy="133.6" r="1.2"/><circle cx="414.4" cy="60.6" r="1.2"/><circle cx="385.3" cy="138.1" r="1.2"/><circle cx="381.2" cy="143.5" r="1.2"/><circle cx="382.8" cy="103.9" r="1.2"/><circle cx="377.4" cy="113.8" r="1.2"/><circle cx="401.5" cy="130.7" r="1.2"/><circle cx="433.7" cy="79.2" r="1.2"/><circle cx="432.1" cy="58.9" r="1.2"/><circle cx="429.0" cy="113.1" r="1.2"/><circle cx="423.3" cy="71.4" r="1.2"/><circle cx="400.9" cy="83.3" r="1.2"/><circle cx="433.4" cy="70.9" r="1.2"/><circle cx="385.7" cy="96.2" r="1.2"/><circle cx="386.6" cy="99.2" r="1.2"/><circle cx="402.5" cy="67.5" r="1.2"/><circle cx="403.1" cy="67.4" r="1.2"/><circle cx="412.8" cy="72.4" r="1.2"/><circle cx="380.7" cy="96.8" r="1.2"/><circle cx="426.4" cy="61.9" r="1.2"/><circle cx="427.0" cy="68.2" r="1.2"/><circle cx="440.5" cy="97.2" r="1.2"/><circle cx="394.2" cy="78.0" r="1.2"/><circle cx="406.8" cy="60.0" r="1.2"/><circle cx="369.8" cy="132.0" r="1.2"/><circle cx="406.3" cy="67.9" r="1.2"/><circle cx="379.0" cy="106.1" r="1.2"/><circle cx="433.6" cy="79.8" r="1.2"/><circle cx="399.0" cy="134.6" r="1.2"/><circle cx="407.9" cy="75.0" r="1.2"/><circle cx="425.0" cy="114.6" r="1.2"/><circle cx="423.4" cy="116.5" r="1.2"/><circle cx="421.2" cy="117.2" r="1.2"/><circle cx="396.1" cy="88.2" r="1.2"/><circle cx="383.4" cy="138.5" r="1.2"/><circle cx="420.8" cy="70.0" r="1.2"/><circle cx="375.3" cy="116.1" r="1.2"/><circle cx="426.3" cy="60.1" r="1.2"/><circle cx="372.7" cy="103.2" r="1.2"/><circle cx="372.7" cy="127.3" r="1.2"/><circle cx="375.2" cy="117.3" r="1.2"/><circle cx="436.5" cy="85.5" r="1.2"/><circle cx="368.3" cy="125.1" r="1.2"/><circle cx="377.5" cy="124.8" r="1.2"/><circle cx="442.0" cy="91.6" r="1.2"/><circle cx="386.5" cy="88.9" r="1.2"/><circle cx="374.3" cy="134.6" r="1.2"/><circle cx="377.1" cy="105.1" r="1.2"/><circle cx="402.5" cy="64.1" r="1.2"/><circle cx="387.9" cy="72.6" r="1.2"/><circle cx="429.4" cy="113.6" r="1.2"/><circle cx="386.3" cy="94.0" r="1.2"/><circle cx="422.6" cy="69.0" r="1.2"/><circle cx="433.2" cy="74.7" r="1.2"/><circle cx="419.9" cy="119.3" r="1.2"/><circle cx="381.1" cy="101.6" r="1.2"/><circle cx="413.4" cy="68.9" r="1.2"/><circle cx="376.2" cy="129.1" r="1.2"/><circle cx="392.8" cy="92.7" r="1.2"/><circle cx="440.1" cy="90.7" r="1.2"/><circle cx="385.9" cy="92.6" r="1.2"/><circle cx="393.5" cy="90.7" r="1.2"/><circle cx="423.3" cy="117.6" r="1.2"/><circle cx="441.7" cy="86.9" r="1.2"/><circle cx="414.5" cy="72.3" r="1.2"/><circle cx="438.4" cy="85.4" r="1.2"/><circle cx="395.5" cy="133.8" r="1.2"/><circle cx="409.1" cy="73.5" r="1.2"/><circle cx="368.7" cy="127.2" r="1.2"/><circle cx="424.3" cy="70.4" r="1.2"/><circle cx="377.0" cy="113.1" r="1.2"/><circle cx="400.3" cy="76.8" r="1.2"/><circle cx="400.0" cy="135.4" r="1.2"/><circle cx="395.4" cy="89.8" r="1.2"/><circle cx="395.2" cy="88.4" r="1.2"/><circle cx="445.1" cy="87.2" r="1.2"/><circle cx="394.8" cy="77.0" r="1.2"/><circle cx="416.5" cy="70.3" r="1.2"/><circle cx="392.6" cy="93.4" r="1.2"/><circle cx="373.7" cy="111.0" r="1.2"/><circle cx="391.5" cy="136.5" r="1.2"/><circle cx="403.5" cy="66.9" r="1.2"/><circle cx="371.3" cy="126.7" r="1.2"/><circle cx="404.1" cy="77.1" r="1.2"/><circle cx="432.0" cy="75.2" r="1.2"/><circle cx="376.6" cy="113.5" r="1.2"/><circle cx="404.2" cy="129.6" r="1.2"/><circle cx="395.2" cy="86.9" r="1.2"/><circle cx="409.4" cy="126.7" r="1.2"/><circle cx="397.0" cy="139.9" r="1.2"/><circle cx="388.1" cy="95.7" r="1.2"/><circle cx="375.2" cy="128.6" r="1.2"/><circle cx="440.0" cy="94.0" r="1.2"/><circle cx="432.9" cy="69.2" r="1.2"/><circle cx="376.1" cy="116.5" r="1.2"/><circle cx="400.0" cy="59.4" r="1.2"/><circle cx="436.9" cy="106.3" r="1.2"/><circle cx="379.0" cy="134.3" r="1.2"/><circle cx="438.9" cy="99.5" r="1.2"/><circle cx="372.2" cy="114.5" r="1.2"/><circle cx="376.2" cy="124.6" r="1.2"/><circle cx="372.5" cy="107.9" r="1.2"/><circle cx="378.8" cy="133.6" r="1.2"/><circle cx="435.1" cy="76.9" r="1.2"/><circle cx="382.5" cy="102.5" r="1.2"/><circle cx="389.8" cy="138.6" r="1.2"/><circle cx="374.4" cy="125.0" r="1.2"/><circle cx="397.0" cy="87.0" r="1.2"/><circle cx="439.0" cy="94.5" r="1.2"/><circle cx="377.3" cy="119.0" r="1.2"/><circle cx="374.9" cy="136.8" r="1.2"/><circle cx="387.6" cy="95.5" r="1.2"/><circle cx="393.3" cy="74.5" r="1.2"/><circle cx="373.8" cy="83.3" r="1.2"/><circle cx="402.0" cy="84.2" r="1.2"/><circle cx="371.6" cy="121.4" r="1.2"/><circle cx="398.1" cy="77.6" r="1.2"/><circle cx="375.2" cy="87.8" r="1.2"/><circle cx="425.3" cy="71.4" r="1.2"/><circle cx="379.6" cy="136.0" r="1.2"/><circle cx="404.8" cy="80.7" r="1.2"/><circle cx="440.0" cy="102.0" r="1.2"/><circle cx="428.7" cy="114.7" r="1.2"/><circle cx="373.7" cy="98.6" r="1.2"/><circle cx="406.2" cy="61.5" r="1.2"/><circle cx="380.9" cy="136.8" r="1.2"/><circle cx="377.3" cy="127.3" r="1.2"/><circle cx="406.5" cy="79.4" r="1.2"/><circle cx="390.1" cy="95.0" r="1.2"/><circle cx="432.4" cy="72.6" r="1.2"/><circle cx="437.4" cy="100.7" r="1.2"/><circle cx="415.4" cy="69.9" r="1.2"/><circle cx="383.7" cy="93.4" r="1.2"/><circle cx="447.2" cy="74.6" r="1.2"/><circle cx="408.7" cy="68.3" r="1.2"/><circle cx="403.3" cy="80.7" r="1.2"/><circle cx="414.4" cy="71.5" r="1.2"/><circle cx="397.5" cy="70.6" r="1.2"/><circle cx="422.7" cy="115.7" r="1.2"/><circle cx="376.5" cy="76.5" r="1.2"/><circle cx="397.1" cy="74.1" r="1.2"/><circle cx="378.7" cy="107.5" r="1.2"/><circle cx="415.2" cy="71.0" r="1.2"/><circle cx="381.3" cy="105.4" r="1.2"/><circle cx="428.4" cy="71.2" r="1.2"/><circle cx="416.9" cy="65.1" r="1.2"/><circle cx="416.9" cy="122.2" r="1.2"/><circle cx="424.2" cy="116.6" r="1.2"/><circle cx="395.5" cy="90.8" r="1.2"/><circle cx="398.9" cy="136.1" r="1.2"/><circle cx="434.3" cy="108.6" r="1.2"/><circle cx="376.7" cy="66.8" r="1.2"/><circle cx="369.7" cy="106.8" r="1.2"/><circle cx="427.1" cy="73.1" r="1.2"/><circle cx="426.5" cy="113.1" r="1.2"/><circle cx="388.6" cy="141.7" r="1.2"/><circle cx="377.3" cy="107.1" r="1.2"/><circle cx="415.0" cy="62.8" r="1.2"/><circle cx="427.2" cy="68.2" r="1.2"/><circle cx="369.3" cy="97.1" r="1.2"/><circle cx="378.2" cy="108.8" r="1.2"/><circle cx="424.6" cy="70.2" r="1.2"/><circle cx="406.0" cy="71.2" r="1.2"/><circle cx="383.8" cy="101.0" r="1.2"/><circle cx="410.6" cy="126.9" r="1.2"/><circle cx="434.7" cy="105.0" r="1.2"/><circle cx="375.1" cy="98.3" r="1.2"/><circle cx="439.8" cy="100.4" r="1.2"/><circle cx="372.3" cy="140.2" r="1.2"/><circle cx="414.1" cy="72.2" r="1.2"/><circle cx="390.8" cy="90.0" r="1.2"/><circle cx="376.6" cy="116.6" r="1.2"/><circle cx="370.8" cy="137.4" r="1.2"/><circle cx="413.8" cy="73.6" r="1.2"/><circle cx="389.4" cy="91.8" r="1.2"/><circle cx="380.8" cy="103.5" r="1.2"/><circle cx="386.0" cy="80.4" r="1.2"/><circle cx="408.5" cy="76.4" r="1.2"/><circle cx="392.1" cy="82.9" r="1.2"/><circle cx="397.9" cy="71.8" r="1.2"/><circle cx="399.6" cy="131.7" r="1.2"/><circle cx="376.4" cy="96.8" r="1.2"/><circle cx="412.0" cy="122.9" r="1.2"/><circle cx="433.0" cy="106.2" r="1.2"/><circle cx="428.4" cy="72.1" r="1.2"/><circle cx="436.0" cy="62.5" r="1.2"/><circle cx="417.0" cy="121.0" r="1.2"/><circle cx="393.0" cy="79.5" r="1.2"/><circle cx="382.3" cy="96.0" r="1.2"/><circle cx="436.7" cy="104.3" r="1.2"/><circle cx="408.6" cy="68.0" r="1.2"/><circle cx="398.1" cy="51.1" r="1.2"/><circle cx="439.5" cy="85.1" r="1.2"/><circle cx="368.0" cy="135.2" r="1.2"/><circle cx="427.5" cy="114.1" r="1.2"/><circle cx="402.3" cy="80.5" r="1.2"/><circle cx="364.6" cy="92.7" r="1.2"/><circle cx="365.7" cy="109.1" r="1.2"/><circle cx="374.3" cy="112.0" r="1.2"/><circle cx="371.3" cy="127.4" r="1.2"/><circle cx="371.3" cy="99.8" r="1.2"/><circle cx="374.0" cy="111.4" r="1.2"/><circle cx="394.2" cy="90.9" r="1.2"/><circle cx="440.4" cy="85.0" r="1.2"/><circle cx="372.6" cy="119.7" r="1.2"/><circle cx="426.5" cy="72.5" r="1.2"/><circle cx="408.6" cy="131.8" r="1.2"/><circle cx="374.0" cy="95.9" r="1.2"/><circle cx="418.6" cy="72.4" r="1.2"/><circle cx="413.5" cy="73.8" r="1.2"/><circle cx="417.5" cy="64.7" r="1.2"/><circle cx="433.4" cy="78.4" r="1.2"/><circle cx="424.7" cy="72.2" r="1.2"/><circle cx="379.5" cy="107.9" r="1.2"/><circle cx="441.4" cy="92.5" r="1.2"/><circle cx="408.2" cy="126.6" r="1.2"/><circle cx="376.5" cy="127.3" r="1.2"/><circle cx="381.0" cy="92.7" r="1.2"/><circle cx="423.4" cy="119.7" r="1.2"/><circle cx="432.0" cy="76.5" r="1.2"/><circle cx="380.8" cy="88.1" r="1.2"/><circle cx="395.1" cy="75.3" r="1.2"/><circle cx="421.9" cy="120.5" r="1.2"/><circle cx="429.6" cy="111.3" r="1.2"/><circle cx="374.6" cy="122.9" r="1.2"/><circle cx="383.9" cy="138.4" r="1.2"/><circle cx="427.7" cy="114.7" r="1.2"/><circle cx="436.1" cy="79.6" r="1.2"/><circle cx="381.1" cy="139.9" r="1.2"/><circle cx="421.4" cy="56.2" r="1.2"/><circle cx="425.1" cy="72.9" r="1.2"/><circle cx="442.8" cy="75.1" r="1.2"/><circle cx="373.9" cy="110.6" r="1.2"/><circle cx="395.3" cy="83.3" r="1.2"/><circle cx="405.2" cy="62.6" r="1.2"/><circle cx="405.5" cy="71.3" r="1.2"/><circle cx="393.8" cy="80.5" r="1.2"/><circle cx="397.0" cy="78.4" r="1.2"/><circle cx="418.1" cy="57.7" r="1.2"/><circle cx="377.7" cy="82.0" r="1.2"/><circle cx="443.0" cy="79.9" r="1.2"/><circle cx="392.8" cy="71.6" r="1.2"/><circle cx="432.8" cy="67.6" r="1.2"/><circle cx="369.9" cy="109.0" r="1.2"/><circle cx="375.0" cy="112.3" r="1.2"/><circle cx="375.1" cy="101.3" r="1.2"/><circle cx="422.4" cy="116.6" r="1.2"/><circle cx="395.7" cy="86.3" r="1.2"/><circle cx="389.7" cy="89.6" r="1.2"/><circle cx="405.1" cy="80.4" r="1.2"/><circle cx="388.1" cy="144.7" r="1.2"/><circle cx="444.3" cy="100.8" r="1.2"/><circle cx="376.0" cy="118.1" r="1.2"/><circle cx="397.3" cy="138.1" r="1.2"/><circle cx="372.3" cy="138.1" r="1.2"/><circle cx="396.0" cy="85.7" r="1.2"/><circle cx="385.3" cy="144.1" r="1.2"/><circle cx="374.8" cy="109.6" r="1.2"/><circle cx="379.8" cy="108.5" r="1.2"/><circle cx="415.6" cy="72.6" r="1.2"/><circle cx="387.0" cy="75.6" r="1.2"/><circle cx="426.3" cy="61.9" r="1.2"/><circle cx="437.2" cy="75.9" r="1.2"/><circle cx="438.9" cy="91.0" r="1.2"/><circle cx="394.0" cy="141.3" r="1.2"/><circle cx="423.7" cy="116.4" r="1.2"/><circle cx="414.9" cy="67.7" r="1.2"/><circle cx="418.2" cy="67.7" r="1.2"/><circle cx="370.9" cy="125.7" r="1.2"/><circle cx="378.1" cy="141.8" r="1.2"/><circle cx="415.5" cy="73.3" r="1.2"/><circle cx="392.3" cy="138.9" r="1.2"/><circle cx="367.7" cy="93.9" r="1.2"/><circle cx="394.8" cy="134.9" r="1.2"/><circle cx="374.7" cy="125.0" r="1.2"/><circle cx="432.7" cy="61.0" r="1.2"/><circle cx="438.9" cy="76.8" r="1.2"/><circle cx="377.6" cy="113.7" r="1.2"/><circle cx="381.1" cy="139.3" r="1.2"/><circle cx="381.6" cy="105.6" r="1.2"/><circle cx="368.2" cy="85.6" r="1.2"/><circle cx="384.3" cy="78.0" r="1.2"/><circle cx="370.0" cy="135.4" r="1.2"/><circle cx="379.6" cy="143.6" r="1.2"/><circle cx="433.6" cy="80.8" r="1.2"/><circle cx="441.2" cy="100.3" r="1.2"/><circle cx="391.1" cy="92.6" r="1.2"/><circle cx="392.4" cy="92.8" r="1.2"/><circle cx="400.2" cy="132.4" r="1.2"/><circle cx="415.5" cy="122.5" r="1.2"/><circle cx="379.1" cy="82.8" r="1.2"/><circle cx="389.6" cy="145.0" r="1.2"/><circle cx="381.5" cy="149.1" r="1.2"/><circle cx="383.9" cy="98.4" r="1.2"/><circle cx="376.5" cy="108.2" r="1.2"/><circle cx="444.4" cy="81.5" r="1.2"/><circle cx="372.4" cy="110.2" r="1.2"/><circle cx="434.8" cy="103.2" r="1.2"/><circle cx="367.9" cy="94.3" r="1.2"/><circle cx="436.9" cy="82.0" r="1.2"/><circle cx="415.4" cy="71.5" r="1.2"/><circle cx="385.6" cy="138.2" r="1.2"/><circle cx="382.3" cy="95.3" r="1.2"/><circle cx="381.6" cy="95.9" r="1.2"/><circle cx="416.1" cy="72.8" r="1.2"/><circle cx="381.4" cy="101.5" r="1.2"/><circle cx="374.7" cy="147.5" r="1.2"/><circle cx="406.8" cy="79.1" r="1.2"/><circle cx="416.5" cy="120.3" r="1.2"/><circle cx="425.7" cy="70.6" r="1.2"/><circle cx="439.3" cy="86.8" r="1.2"/><circle cx="439.6" cy="96.5" r="1.2"/><circle cx="401.7" cy="82.9" r="1.2"/><circle cx="390.0" cy="90.1" r="1.2"/><circle cx="385.4" cy="91.8" r="1.2"/><circle cx="424.9" cy="116.3" r="1.2"/><circle cx="383.8" cy="100.8" r="1.2"/><circle cx="399.5" cy="80.0" r="1.2"/><circle cx="378.7" cy="133.7" r="1.2"/><circle cx="404.3" cy="78.7" r="1.2"/><circle cx="395.9" cy="88.2" r="1.2"/><circle cx="390.0" cy="79.7" r="1.2"/><circle cx="377.5" cy="124.2" r="1.2"/><circle cx="418.5" cy="44.6" r="1.2"/><circle cx="408.5" cy="67.4" r="1.2"/><circle cx="379.4" cy="136.2" r="1.2"/><circle cx="377.3" cy="122.1" r="1.2"/><circle cx="435.4" cy="76.2" r="1.2"/><circle cx="390.6" cy="139.8" r="1.2"/><circle cx="376.3" cy="132.5" r="1.2"/><circle cx="417.8" cy="68.4" r="1.2"/><circle cx="377.2" cy="130.2" r="1.2"/><circle cx="374.0" cy="148.5" r="1.2"/><circle cx="435.8" cy="79.8" r="1.2"/><circle cx="419.8" cy="67.7" r="1.2"/><circle cx="398.8" cy="84.3" r="1.2"/><circle cx="406.4" cy="126.0" r="1.2"/><circle cx="371.1" cy="120.1" r="1.2"/><circle cx="394.9" cy="150.1" r="1.2"/><circle cx="431.6" cy="77.5" r="1.2"/><circle cx="406.0" cy="80.5" r="1.2"/><circle cx="399.3" cy="84.6" r="1.2"/><circle cx="401.2" cy="75.1" r="1.2"/><circle cx="383.3" cy="144.0" r="1.2"/><circle cx="377.5" cy="136.2" r="1.2"/><circle cx="374.3" cy="82.9" r="1.2"/><circle cx="411.5" cy="124.0" r="1.2"/><circle cx="375.7" cy="93.5" r="1.2"/><circle cx="422.9" cy="71.6" r="1.2"/><circle cx="379.8" cy="151.4" r="1.2"/><circle cx="392.3" cy="80.1" r="1.2"/><circle cx="383.8" cy="99.8" r="1.2"/><circle cx="381.6" cy="88.7" r="1.2"/><circle cx="439.8" cy="98.7" r="1.2"/><circle cx="370.9" cy="107.4" r="1.2"/><circle cx="412.3" cy="74.6" r="1.2"/><circle cx="411.8" cy="75.3" r="1.2"/><circle cx="393.1" cy="81.5" r="1.2"/><circle cx="366.9" cy="95.7" r="1.2"/><circle cx="414.3" cy="122.1" r="1.2"/><circle cx="376.7" cy="107.7" r="1.2"/><circle cx="437.6" cy="101.3" r="1.2"/><circle cx="409.6" cy="124.6" r="1.2"/><circle cx="426.1" cy="69.7" r="1.2"/><circle cx="440.4" cy="102.9" r="1.2"/><circle cx="399.9" cy="51.6" r="1.2"/><circle cx="438.8" cy="95.1" r="1.2"/><circle cx="375.7" cy="85.0" r="1.2"/><circle cx="377.2" cy="111.1" r="1.2"/><circle cx="422.1" cy="67.2" r="1.2"/><circle cx="373.2" cy="114.1" r="1.2"/><circle cx="381.5" cy="97.0" r="1.2"/><circle cx="395.2" cy="82.0" r="1.2"/><circle cx="420.2" cy="117.2" r="1.2"/><circle cx="405.0" cy="80.3" r="1.2"/><circle cx="375.5" cy="122.9" r="1.2"/><circle cx="412.7" cy="123.3" r="1.2"/><circle cx="378.4" cy="101.2" r="1.2"/><circle cx="436.8" cy="106.9" r="1.2"/><circle cx="401.9" cy="81.6" r="1.2"/><circle cx="374.4" cy="110.4" r="1.2"/><circle cx="425.6" cy="69.3" r="1.2"/><circle cx="392.0" cy="92.3" r="1.2"/><circle cx="376.4" cy="123.6" r="1.2"/><circle cx="389.5" cy="139.1" r="1.2"/><circle cx="367.6" cy="112.1" r="1.2"/><circle cx="441.6" cy="105.6" r="1.2"/><circle cx="379.0" cy="93.3" r="1.2"/><circle cx="384.9" cy="91.3" r="1.2"/><circle cx="388.3" cy="96.3" r="1.2"/><circle cx="401.0" cy="60.2" r="1.2"/><circle cx="402.3" cy="69.5" r="1.2"/><circle cx="377.6" cy="98.9" r="1.2"/><circle cx="379.9" cy="134.7" r="1.2"/><circle cx="405.2" cy="127.4" r="1.2"/><circle cx="392.4" cy="87.4" r="1.2"/><circle cx="436.2" cy="85.6" r="1.2"/><circle cx="447.4" cy="69.7" r="1.2"/><circle cx="391.9" cy="76.1" r="1.2"/><circle cx="435.4" cy="77.0" r="1.2"/><circle cx="437.9" cy="73.1" r="1.2"/><circle cx="418.6" cy="71.8" r="1.2"/><circle cx="428.5" cy="74.8" r="1.2"/><circle cx="388.0" cy="140.9" r="1.2"/><circle cx="390.8" cy="94.8" r="1.2"/><circle cx="376.6" cy="141.2" r="1.2"/><circle cx="434.9" cy="79.9" r="1.2"/><circle cx="426.8" cy="113.2" r="1.2"/><circle cx="375.2" cy="108.4" r="1.2"/><circle cx="377.2" cy="81.0" r="1.2"/><circle cx="404.3" cy="72.9" r="1.2"/><circle cx="395.0" cy="70.4" r="1.2"/><circle cx="389.0" cy="137.5" r="1.2"/><circle cx="424.8" cy="72.9" r="1.2"/><circle cx="438.3" cy="86.8" r="1.2"/><circle cx="439.4" cy="100.6" r="1.2"/><circle cx="377.0" cy="135.8" r="1.2"/><circle cx="430.0" cy="73.0" r="1.2"/><circle cx="399.1" cy="132.4" r="1.2"/><circle cx="431.3" cy="73.8" r="1.2"/><circle cx="375.2" cy="115.0" r="1.2"/><circle cx="400.2" cy="132.6" r="1.2"/><circle cx="429.1" cy="112.3" r="1.2"/><circle cx="370.2" cy="111.6" r="1.2"/><circle cx="376.0" cy="103.5" r="1.2"/><circle cx="394.6" cy="85.3" r="1.2"/><circle cx="375.8" cy="102.0" r="1.2"/><circle cx="373.3" cy="51.9" r="1.2"/><circle cx="376.6" cy="136.8" r="1.2"/><circle cx="375.0" cy="73.6" r="1.2"/><circle cx="407.1" cy="77.9" r="1.2"/><circle cx="375.5" cy="107.9" r="1.2"/><circle cx="439.4" cy="96.3" r="1.2"/><circle cx="386.7" cy="138.4" r="1.2"/><circle cx="397.8" cy="140.3" r="1.2"/><circle cx="422.5" cy="53.8" r="1.2"/><circle cx="378.1" cy="142.7" r="1.2"/><circle cx="423.4" cy="116.9" r="1.2"/><circle cx="381.1" cy="105.3" r="1.2"/><circle cx="418.4" cy="70.3" r="1.2"/><circle cx="434.9" cy="89.3" r="1.2"/><circle cx="422.6" cy="78.4" r="1.2"/><circle cx="418.9" cy="114.4" r="1.2"/><circle cx="432.2" cy="99.8" r="1.2"/><circle cx="423.7" cy="78.9" r="1.2"/><circle cx="427.9" cy="78.7" r="1.2"/><circle cx="388.5" cy="134.9" r="1.2"/><circle cx="419.9" cy="74.9" r="1.2"/><circle cx="434.1" cy="83.7" r="1.2"/><circle cx="388.7" cy="137.3" r="1.2"/><circle cx="406.4" cy="123.4" r="1.2"/><circle cx="429.6" cy="105.0" r="1.2"/><circle cx="379.1" cy="132.2" r="1.2"/><circle cx="421.1" cy="76.8" r="1.2"/><circle cx="379.5" cy="127.3" r="1.2"/><circle cx="381.1" cy="110.2" r="1.2"/><circle cx="410.0" cy="77.8" r="1.2"/><circle cx="385.9" cy="132.7" r="1.2"/><circle cx="408.2" cy="121.8" r="1.2"/><circle cx="379.4" cy="120.5" r="1.2"/><circle cx="429.2" cy="82.0" r="1.2"/><circle cx="398.4" cy="129.2" r="1.2"/><circle cx="384.2" cy="134.1" r="1.2"/><circle cx="426.4" cy="112.4" r="1.2"/><circle cx="407.2" cy="83.3" r="1.2"/><circle cx="379.3" cy="123.5" r="1.2"/><circle cx="382.3" cy="109.1" r="1.2"/><circle cx="408.9" cy="81.4" r="1.2"/><circle cx="401.4" cy="85.3" r="1.2"/><circle cx="378.5" cy="121.7" r="1.2"/><circle cx="436.6" cy="93.7" r="1.2"/><circle cx="424.7" cy="73.8" r="1.2"/><circle cx="422.2" cy="75.2" r="1.2"/><circle cx="424.4" cy="75.8" r="1.2"/><circle cx="434.2" cy="102.7" r="1.2"/><circle cx="427.1" cy="75.3" r="1.2"/><circle cx="384.9" cy="129.4" r="1.2"/><circle cx="433.9" cy="100.1" r="1.2"/><circle cx="398.9" cy="89.8" r="1.2"/><circle cx="425.3" cy="111.4" r="1.2"/><circle cx="412.3" cy="77.9" r="1.2"/><circle cx="396.9" cy="129.6" r="1.2"/><circle cx="383.4" cy="114.3" r="1.2"/><circle cx="384.3" cy="130.5" r="1.2"/><circle cx="395.8" cy="94.9" r="1.2"/><circle cx="381.4" cy="111.0" r="1.2"/><circle cx="389.3" cy="102.3" r="1.2"/><circle cx="410.6" cy="80.1" r="1.2"/><circle cx="417.4" cy="74.7" r="1.2"/><circle cx="379.8" cy="131.0" r="1.2"/><circle cx="378.8" cy="112.0" r="1.2"/><circle cx="405.9" cy="125.8" r="1.2"/><circle cx="434.7" cy="100.2" r="1.2"/><circle cx="434.6" cy="84.9" r="1.2"/><circle cx="411.9" cy="79.7" r="1.2"/><circle cx="425.3" cy="76.7" r="1.2"/><circle cx="429.5" cy="84.4" r="1.2"/><circle cx="434.4" cy="86.0" r="1.2"/><circle cx="386.7" cy="137.6" r="1.2"/><circle cx="397.7" cy="129.3" r="1.2"/><circle cx="383.4" cy="133.3" r="1.2"/><circle cx="382.9" cy="134.3" r="1.2"/><circle cx="412.4" cy="75.5" r="1.2"/><circle cx="380.8" cy="134.2" r="1.2"/><circle cx="434.5" cy="88.2" r="1.2"/><circle cx="381.5" cy="114.9" r="1.2"/><circle cx="421.1" cy="76.4" r="1.2"/><circle cx="381.0" cy="107.6" r="1.2"/><circle cx="420.3" cy="73.2" r="1.2"/><circle cx="381.3" cy="125.6" r="1.2"/><circle cx="383.3" cy="131.8" r="1.2"/><circle cx="430.0" cy="109.2" r="1.2"/><circle cx="399.2" cy="88.7" r="1.2"/><circle cx="378.4" cy="129.4" r="1.2"/><circle cx="381.8" cy="122.4" r="1.2"/><circle cx="430.7" cy="83.1" r="1.2"/><circle cx="387.6" cy="136.0" r="1.2"/><circle cx="420.9" cy="75.9" r="1.2"/><circle cx="401.2" cy="127.1" r="1.2"/><circle cx="420.5" cy="73.5" r="1.2"/><circle cx="383.1" cy="116.5" r="1.2"/><circle cx="436.2" cy="95.8" r="1.2"/><circle cx="436.1" cy="100.3" r="1.2"/><circle cx="431.7" cy="84.4" r="1.2"/><circle cx="395.6" cy="131.8" r="1.2"/><circle cx="405.3" cy="85.1" r="1.2"/><circle cx="396.7" cy="90.0" r="1.2"/><circle cx="434.1" cy="83.6" r="1.2"/><circle cx="406.7" cy="84.2" r="1.2"/><circle cx="410.1" cy="79.6" r="1.2"/><circle cx="431.8" cy="105.3" r="1.2"/><circle cx="414.8" cy="119.3" r="1.2"/><circle cx="379.8" cy="133.2" r="1.2"/><circle cx="384.3" cy="127.5" r="1.2"/><circle cx="382.5" cy="108.2" r="1.2"/><circle cx="392.5" cy="95.8" r="1.2"/><circle cx="426.1" cy="76.0" r="1.2"/><circle cx="432.7" cy="89.3" r="1.2"/><circle cx="396.7" cy="93.2" r="1.2"/><circle cx="382.3" cy="108.9" r="1.2"/><circle cx="424.2" cy="113.9" r="1.2"/><circle cx="413.3" cy="118.3" r="1.2"/><circle cx="402.1" cy="126.4" r="1.2"/><circle cx="389.8" cy="97.5" r="1.2"/><circle cx="382.4" cy="114.6" r="1.2"/><circle cx="395.7" cy="94.4" r="1.2"/><circle cx="409.5" cy="123.1" r="1.2"/><circle cx="378.8" cy="112.9" r="1.2"/><circle cx="381.8" cy="130.4" r="1.2"/><circle cx="390.3" cy="100.8" r="1.2"/><circle cx="381.9" cy="114.0" r="1.2"/><circle cx="418.8" cy="77.3" r="1.2"/><circle cx="380.9" cy="126.8" r="1.2"/><circle cx="381.1" cy="135.1" r="1.2"/><circle cx="391.0" cy="133.1" r="1.2"/><circle cx="397.1" cy="130.8" r="1.2"/><circle cx="387.4" cy="133.5" r="1.2"/><circle cx="391.7" cy="132.1" r="1.2"/><circle cx="435.2" cy="92.9" r="1.2"/><circle cx="394.0" cy="133.9" r="1.2"/><circle cx="432.4" cy="80.5" r="1.2"/><circle cx="410.6" cy="78.5" r="1.2"/><circle cx="385.9" cy="101.2" r="1.2"/><circle cx="431.3" cy="85.3" r="1.2"/><circle cx="422.7" cy="78.5" r="1.2"/><circle cx="423.6" cy="76.7" r="1.2"/><circle cx="403.9" cy="83.5" r="1.2"/><circle cx="431.0" cy="82.0" r="1.2"/><circle cx="415.5" cy="119.2" r="1.2"/><circle cx="387.6" cy="132.7" r="1.2"/><circle cx="379.7" cy="112.4" r="1.2"/><circle cx="393.2" cy="133.2" r="1.2"/><circle cx="400.1" cy="89.2" r="1.2"/><circle cx="434.0" cy="87.4" r="1.2"/><circle cx="407.1" cy="81.0" r="1.2"/><circle cx="422.7" cy="114.6" r="1.2"/><circle cx="384.1" cy="136.4" r="1.2"/><circle cx="379.6" cy="110.8" r="1.2"/><circle cx="431.2" cy="107.0" r="1.2"/><circle cx="387.1" cy="103.0" r="1.2"/><circle cx="396.2" cy="93.3" r="1.2"/><circle cx="382.0" cy="118.2" r="1.2"/><circle cx="382.8" cy="118.7" r="1.2"/><circle cx="392.9" cy="94.5" r="1.2"/><circle cx="433.5" cy="87.4" r="1.2"/><circle cx="397.8" cy="91.8" r="1.2"/><circle cx="392.6" cy="132.0" r="1.2"/><circle cx="427.8" cy="81.5" r="1.2"/><circle cx="383.4" cy="132.3" r="1.2"/><circle cx="437.2" cy="94.3" r="1.2"/><circle cx="415.2" cy="77.2" r="1.2"/><circle cx="381.4" cy="135.5" r="1.2"/><circle cx="429.1" cy="76.9" r="1.2"/><circle cx="429.9" cy="109.1" r="1.2"/><circle cx="380.9" cy="121.5" r="1.2"/><circle cx="385.4" cy="130.2" r="1.2"/><circle cx="434.2" cy="103.6" r="1.2"/><circle cx="397.7" cy="91.4" r="1.2"/><circle cx="390.9" cy="97.4" r="1.2"/><circle cx="428.7" cy="110.8" r="1.2"/><circle cx="379.9" cy="133.2" r="1.2"/><circle cx="390.4" cy="98.5" r="1.2"/><circle cx="380.8" cy="126.8" r="1.2"/><circle cx="419.7" cy="75.3" r="1.2"/><circle cx="398.0" cy="91.8" r="1.2"/><circle cx="429.7" cy="75.9" r="1.2"/><circle cx="425.9" cy="76.7" r="1.2"/><circle cx="434.5" cy="84.6" r="1.2"/><circle cx="427.7" cy="106.9" r="1.2"/><circle cx="429.3" cy="77.6" r="1.2"/><circle cx="433.3" cy="89.4" r="1.2"/><circle cx="407.1" cy="123.8" r="1.2"/><circle cx="383.6" cy="109.7" r="1.2"/><circle cx="404.5" cy="82.0" r="1.2"/><circle cx="379.5" cy="131.0" r="1.2"/><circle cx="429.6" cy="106.1" r="1.2"/><circle cx="404.0" cy="83.3" r="1.2"/><circle cx="432.2" cy="102.4" r="1.2"/><circle cx="378.6" cy="122.8" r="1.2"/><circle cx="405.7" cy="125.2" r="1.2"/><circle cx="383.3" cy="126.3" r="1.2"/><circle cx="399.1" cy="130.6" r="1.2"/><circle cx="397.5" cy="93.4" r="1.2"/><circle cx="421.4" cy="76.8" r="1.2"/><circle cx="387.5" cy="102.2" r="1.2"/><circle cx="436.0" cy="101.0" r="1.2"/><circle cx="382.2" cy="135.0" r="1.2"/><circle cx="397.0" cy="92.7" r="1.2"/><circle cx="383.2" cy="119.0" r="1.2"/><circle cx="380.3" cy="116.9" r="1.2"/><circle cx="432.9" cy="105.4" r="1.2"/><circle cx="382.4" cy="132.9" r="1.2"/><circle cx="431.2" cy="88.1" r="1.2"/><circle cx="430.0" cy="82.2" r="1.2"/><circle cx="385.0" cy="133.4" r="1.2"/><circle cx="403.2" cy="87.3" r="1.2"/><circle cx="396.4" cy="131.6" r="1.2"/><circle cx="409.7" cy="121.9" r="1.2"/><circle cx="433.5" cy="98.3" r="1.2"/><circle cx="391.4" cy="97.9" r="1.2"/><circle cx="403.3" cy="83.1" r="1.2"/><circle cx="400.2" cy="90.3" r="1.2"/><circle cx="389.5" cy="133.8" r="1.2"/><circle cx="415.2" cy="119.7" r="1.2"/><circle cx="431.9" cy="101.4" r="1.2"/><circle cx="378.3" cy="115.8" r="1.2"/><circle cx="417.8" cy="75.3" r="1.2"/><circle cx="406.7" cy="122.4" r="1.2"/><circle cx="379.2" cy="124.2" r="1.2"/><circle cx="416.1" cy="78.2" r="1.2"/><circle cx="415.7" cy="116.2" r="1.2"/><circle cx="381.0" cy="113.4" r="1.2"/><circle cx="433.2" cy="94.3" r="1.2"/><circle cx="421.6" cy="73.8" r="1.2"/><circle cx="408.7" cy="121.7" r="1.2"/><circle cx="384.4" cy="108.1" r="1.2"/><circle cx="432.4" cy="83.7" r="1.2"/><circle cx="432.4" cy="99.8" r="1.2"/><circle cx="432.8" cy="88.2" r="1.2"/><circle cx="378.7" cy="130.9" r="1.2"/><circle cx="431.8" cy="102.2" r="1.2"/><circle cx="380.3" cy="121.5" r="1.2"/><circle cx="391.4" cy="134.8" r="1.2"/><circle cx="377.9" cy="122.7" r="1.2"/><circle cx="409.9" cy="79.1" r="1.2"/><circle cx="402.6" cy="85.4" r="1.2"/><circle cx="383.7" cy="107.2" r="1.2"/><circle cx="380.7" cy="112.3" r="1.2"/><circle cx="426.1" cy="110.6" r="1.2"/><circle cx="396.2" cy="92.8" r="1.2"/><circle cx="402.3" cy="85.1" r="1.2"/><circle cx="379.0" cy="129.7" r="1.2"/><circle cx="434.5" cy="82.4" r="1.2"/><circle cx="381.3" cy="123.1" r="1.2"/><circle cx="433.7" cy="93.8" r="1.2"/><circle cx="381.7" cy="126.7" r="1.2"/><circle cx="403.9" cy="85.2" r="1.2"/><circle cx="436.7" cy="91.2" r="1.2"/><circle cx="422.1" cy="112.9" r="1.2"/><circle cx="426.6" cy="77.5" r="1.2"/><circle cx="433.2" cy="92.1" r="1.2"/><circle cx="436.8" cy="94.1" r="1.2"/><circle cx="421.9" cy="113.9" r="1.2"/><circle cx="426.3" cy="77.5" r="1.2"/><circle cx="401.1" cy="85.8" r="1.2"/><circle cx="397.7" cy="89.8" r="1.2"/><circle cx="378.3" cy="121.9" r="1.2"/><circle cx="383.5" cy="107.3" r="1.2"/><circle cx="382.7" cy="134.5" r="1.2"/><circle cx="427.6" cy="109.4" r="1.2"/><circle cx="379.6" cy="123.5" r="1.2"/><circle cx="383.0" cy="126.5" r="1.2"/><circle cx="381.5" cy="119.7" r="1.2"/><circle cx="434.0" cy="91.4" r="1.2"/><circle cx="382.0" cy="108.5" r="1.2"/><circle cx="427.7" cy="75.5" r="1.2"/><circle cx="423.3" cy="73.1" r="1.2"/><circle cx="386.4" cy="105.8" r="1.2"/><circle cx="380.2" cy="114.2" r="1.2"/><circle cx="429.2" cy="83.8" r="1.2"/><circle cx="407.8" cy="81.2" r="1.2"/><circle cx="430.4" cy="85.2" r="1.2"/><circle cx="418.3" cy="116.9" r="1.2"/><circle cx="399.1" cy="129.0" r="1.2"/><circle cx="430.1" cy="79.3" r="1.2"/><circle cx="378.3" cy="129.5" r="1.2"/><circle cx="385.4" cy="102.8" r="1.2"/><circle cx="425.6" cy="77.9" r="1.2"/><circle cx="383.7" cy="128.8" r="1.2"/><circle cx="384.0" cy="129.1" r="1.2"/><circle cx="386.4" cy="105.0" r="1.2"/><circle cx="383.6" cy="133.5" r="1.2"/><circle cx="400.6" cy="128.0" r="1.2"/><circle cx="398.8" cy="88.8" r="1.2"/><circle cx="411.2" cy="79.3" r="1.2"/><circle cx="430.2" cy="79.9" r="1.2"/><circle cx="401.5" cy="127.3" r="1.2"/><circle cx="379.3" cy="131.8" r="1.2"/><circle cx="430.9" cy="86.2" r="1.2"/><circle cx="420.3" cy="116.0" r="1.2"/><circle cx="379.4" cy="131.4" r="1.2"/><circle cx="396.4" cy="90.6" r="1.2"/><circle cx="395.3" cy="131.4" r="1.2"/><circle cx="402.2" cy="85.1" r="1.2"/><circle cx="385.3" cy="135.2" r="1.2"/><circle cx="431.6" cy="106.9" r="1.2"/><circle cx="385.7" cy="137.4" r="1.2"/><circle cx="378.4" cy="125.5" r="1.2"/><circle cx="379.3" cy="121.5" r="1.2"/><circle cx="399.7" cy="130.2" r="1.2"/><circle cx="390.2" cy="133.2" r="1.2"/><circle cx="407.4" cy="124.0" r="1.2"/><circle cx="387.2" cy="104.5" r="1.2"/><circle cx="430.9" cy="77.1" r="1.2"/><circle cx="382.6" cy="110.1" r="1.2"/><circle cx="388.0" cy="137.1" r="1.2"/><circle cx="408.5" cy="80.2" r="1.2"/><circle cx="380.7" cy="129.1" r="1.2"/><circle cx="424.4" cy="111.2" r="1.2"/><circle cx="380.2" cy="118.4" r="1.2"/><circle cx="435.2" cy="96.1" r="1.2"/><circle cx="380.2" cy="128.3" r="1.2"/><circle cx="434.9" cy="93.9" r="1.2"/><circle cx="412.1" cy="78.7" r="1.2"/><circle cx="429.8" cy="82.4" r="1.2"/><circle cx="423.0" cy="76.1" r="1.2"/><circle cx="424.8" cy="75.3" r="1.2"/><circle cx="404.2" cy="82.7" r="1.2"/><circle cx="418.8" cy="73.2" r="1.2"/><circle cx="432.6" cy="100.8" r="1.2"/><circle cx="433.2" cy="88.5" r="1.2"/><circle cx="422.6" cy="114.7" r="1.2"/><circle cx="434.1" cy="86.6" r="1.2"/><circle cx="392.8" cy="134.4" r="1.2"/><circle cx="437.6" cy="94.9" r="1.2"/><circle cx="391.0" cy="100.3" r="1.2"/><circle cx="432.0" cy="104.2" r="1.2"/><circle cx="382.6" cy="124.5" r="1.2"/><circle cx="408.9" cy="81.0" r="1.2"/><circle cx="380.5" cy="124.5" r="1.2"/><circle cx="381.1" cy="131.3" r="1.2"/><circle cx="435.6" cy="90.3" r="1.2"/><circle cx="408.7" cy="123.4" r="1.2"/><circle cx="423.3" cy="76.4" r="1.2"/><circle cx="403.2" cy="87.7" r="1.2"/><circle cx="432.6" cy="82.1" r="1.2"/><circle cx="427.1" cy="75.1" r="1.2"/><circle cx="432.4" cy="82.9" r="1.2"/><circle cx="380.0" cy="133.3" r="1.2"/><circle cx="401.9" cy="87.2" r="1.2"/><circle cx="380.0" cy="112.5" r="1.2"/><circle cx="381.2" cy="126.2" r="1.2"/><circle cx="414.0" cy="119.9" r="1.2"/><circle cx="424.4" cy="73.5" r="1.2"/><circle cx="380.1" cy="122.1" r="1.2"/><circle cx="426.0" cy="73.7" r="1.2"/><circle cx="391.2" cy="132.3" r="1.2"/><circle cx="379.7" cy="116.5" r="1.2"/><circle cx="399.9" cy="89.0" r="1.2"/><circle cx="410.0" cy="77.5" r="1.2"/><circle cx="381.7" cy="118.1" r="1.2"/><circle cx="413.9" cy="119.0" r="1.2"/><circle cx="408.2" cy="124.2" r="1.2"/><circle cx="407.9" cy="81.3" r="1.2"/><circle cx="416.3" cy="116.6" r="1.2"/><circle cx="406.9" cy="83.5" r="1.2"/><circle cx="401.0" cy="128.7" r="1.2"/><circle cx="437.8" cy="94.0" r="1.2"/><circle cx="434.9" cy="85.1" r="1.2"/><circle cx="404.2" cy="85.0" r="1.2"/><circle cx="387.0" cy="100.8" r="1.2"/><circle cx="381.4" cy="131.1" r="1.2"/><circle cx="380.0" cy="128.5" r="1.2"/><circle cx="427.0" cy="74.7" r="1.2"/><circle cx="407.6" cy="81.3" r="1.2"/><circle cx="412.3" cy="120.3" r="1.2"/><circle cx="403.9" cy="127.2" r="1.2"/><circle cx="391.2" cy="96.1" r="1.2"/><circle cx="402.5" cy="126.9" r="1.2"/><circle cx="379.8" cy="121.1" r="1.2"/><circle cx="431.5" cy="106.0" r="1.2"/><circle cx="407.9" cy="121.8" r="1.2"/><circle cx="420.4" cy="74.2" r="1.2"/><circle cx="408.0" cy="82.4" r="1.2"/><circle cx="436.4" cy="88.7" r="1.2"/><circle cx="432.0" cy="101.6" r="1.2"/><circle cx="388.1" cy="101.1" r="1.2"/><circle cx="384.0" cy="136.4" r="1.2"/><circle cx="388.7" cy="100.6" r="1.2"/><circle cx="384.3" cy="107.9" r="1.2"/><circle cx="387.0" cy="135.6" r="1.2"/><circle cx="400.4" cy="127.1" r="1.2"/><circle cx="429.2" cy="107.3" r="1.2"/><circle cx="380.3" cy="116.7" r="1.2"/><circle cx="436.9" cy="96.2" r="1.2"/><circle cx="390.3" cy="98.1" r="1.2"/><circle cx="436.2" cy="90.4" r="1.2"/><circle cx="420.4" cy="77.4" r="1.2"/><circle cx="426.8" cy="110.6" r="1.2"/><circle cx="385.8" cy="136.1" r="1.2"/><circle cx="379.4" cy="123.3" r="1.2"/><circle cx="384.6" cy="103.3" r="1.2"/><circle cx="432.7" cy="89.5" r="1.2"/><circle cx="422.7" cy="77.5" r="1.2"/><circle cx="382.5" cy="136.4" r="1.2"/><circle cx="389.4" cy="132.6" r="1.2"/><circle cx="420.8" cy="76.2" r="1.2"/><circle cx="383.8" cy="110.0" r="1.2"/><circle cx="380.9" cy="129.6" r="1.2"/><circle cx="384.9" cy="133.7" r="1.2"/><circle cx="430.4" cy="104.3" r="1.2"/><circle cx="431.1" cy="80.8" r="1.2"/><circle cx="380.1" cy="125.8" r="1.2"/><circle cx="379.9" cy="119.1" r="1.2"/><circle cx="384.7" cy="104.2" r="1.2"/><circle cx="414.6" cy="78.4" r="1.2"/><circle cx="408.0" cy="123.2" r="1.2"/><circle cx="415.8" cy="78.0" r="1.2"/><circle cx="381.9" cy="131.8" r="1.2"/><circle cx="382.9" cy="109.1" r="1.2"/><circle cx="429.1" cy="78.2" r="1.2"/><circle cx="382.4" cy="111.4" r="1.2"/><circle cx="433.1" cy="94.1" r="1.2"/><circle cx="436.6" cy="93.7" r="1.2"/><circle cx="434.6" cy="100.5" r="1.2"/><circle cx="397.6" cy="89.6" r="1.2"/><circle cx="405.9" cy="123.3" r="1.2"/><circle cx="398.8" cy="129.1" r="1.2"/><circle cx="383.6" cy="135.3" r="1.2"/><circle cx="395.7" cy="91.1" r="1.2"/><circle cx="409.4" cy="80.7" r="1.2"/><circle cx="387.2" cy="136.0" r="1.2"/><circle cx="434.5" cy="90.5" r="1.2"/><circle cx="385.6" cy="130.9" r="1.2"/><circle cx="379.8" cy="119.1" r="1.2"/><circle cx="399.5" cy="88.0" r="1.2"/><circle cx="433.3" cy="93.6" r="1.2"/><circle cx="379.4" cy="123.0" r="1.2"/><circle cx="435.6" cy="97.5" r="1.2"/><circle cx="385.3" cy="132.6" r="1.2"/><circle cx="379.6" cy="123.9" r="1.2"/><circle cx="382.3" cy="124.8" r="1.2"/><path d="M383.4,123.9L383.5,112.8L384.8,108.7L386.1,106.3L388.5,103.4L392.3,98.9L397.3,94.0L402.3,88.7L407.3,84.1L412.3,80.0L417.2,78.0L421.6,78.0L426.6,80.9L430.3,86.2L432.8,93.2L433.4,97.3L431.3,101.4L428.9,105.5L425.7,109.2L421.0,112.8L415.2,116.5L409.3,120.2L403.5,123.8L399.8,126.8L395.5,129.7L391.1,132.1L386.2,130.1L384.6,127.6Z" fill="#000"/><circle cx="369.9" cy="26.5" r="1.2"/><circle cx="380.0" cy="29.8" r="1.2"/><circle cx="383.6" cy="27.5" r="1.2"/><circle cx="399.1" cy="27.3" r="1.2"/><circle cx="404.1" cy="26.9" r="1.2"/><circle cx="378.1" cy="34.5" r="1.2"/><circle cx="377.8" cy="36.2" r="1.2"/><circle cx="381.0" cy="33.2" r="1.2"/><circle cx="387.0" cy="33.2" r="1.2"/><circle cx="389.9" cy="33.9" r="1.2"/><circle cx="395.9" cy="32.0" r="1.2"/><circle cx="366.7" cy="41.8" r="1.2"/><circle cx="371.2" cy="40.0" r="1.2"/><circle cx="376.9" cy="44.7" r="1.2"/><circle cx="366.1" cy="46.6" r="1.2"/><circle cx="387.7" cy="41.8" r="1.2"/><circle cx="393.4" cy="41.8" r="1.2"/><circle cx="397.8" cy="38.7" r="1.2"/><circle cx="397.2" cy="42.8" r="1.2"/><circle cx="396.5" cy="44.0" r="1.2"/><circle cx="393.7" cy="45.9" r="1.2"/><circle cx="402.9" cy="41.5" r="1.2"/><circle cx="409.9" cy="41.2" r="1.2"/><circle cx="408.6" cy="49.1" r="1.2"/><circle cx="372.7" cy="49.7" r="1.2"/><circle cx="370.5" cy="52.7" r="1.2"/><circle cx="385.5" cy="51.6" r="1.2"/><circle cx="378.1" cy="56.7" r="1.2"/><circle cx="378.5" cy="57.7" r="1.2"/><circle cx="391.2" cy="56.7" r="1.2"/><circle cx="399.1" cy="56.1" r="1.2"/><circle cx="400.3" cy="57.4" r="1.2"/><circle cx="404.8" cy="56.5" r="1.2"/><circle cx="407.3" cy="56.7" r="1.2"/><circle cx="370.5" cy="61.8" r="1.2"/><circle cx="376.2" cy="62.4" r="1.2"/><circle cx="367.3" cy="65.0" r="1.2"/><circle cx="385.1" cy="62.8" r="1.2"/><circle cx="388.3" cy="62.1" r="1.2"/><circle cx="395.3" cy="61.2" r="1.2"/><circle cx="407.3" cy="61.2" r="1.2"/><circle cx="409.9" cy="62.4" r="1.2"/><circle cx="380.0" cy="66.6" r="1.2"/><circle cx="382.6" cy="65.6" r="1.2"/><circle cx="387.0" cy="66.2" r="1.2"/><circle cx="386.4" cy="68.8" r="1.2"/><circle cx="391.5" cy="67.5" r="1.2"/><circle cx="394.6" cy="68.1" r="1.2"/><circle cx="401.0" cy="65.0" r="1.2"/><circle cx="402.9" cy="66.2" r="1.2"/><circle cx="405.4" cy="66.9" r="1.2"/><circle cx="408.6" cy="66.9" r="1.2"/><circle cx="374.3" cy="72.6" r="1.2"/><circle cx="377.5" cy="71.3" r="1.2"/><circle cx="382.6" cy="69.4" r="1.2"/><circle cx="381.9" cy="73.2" r="1.2"/><circle cx="386.4" cy="72.6" r="1.2"/><circle cx="388.3" cy="73.2" r="1.2"/><circle cx="396.5" cy="72.0" r="1.2"/><circle cx="399.1" cy="72.6" r="1.2"/><circle cx="401.6" cy="70.7" r="1.2"/><circle cx="406.1" cy="73.0" r="1.2"/><circle cx="408.6" cy="71.3" r="1.2"/><circle cx="410.5" cy="68.8" r="1.2"/><circle cx="416.8" cy="28.6" r="1.2"/><circle cx="430.1" cy="30.7" r="1.2"/><circle cx="435.4" cy="32.6" r="1.2"/><circle cx="442.8" cy="32.0" r="1.2"/><circle cx="446.4" cy="32.9" r="1.2"/><circle cx="451.7" cy="32.4" r="1.2"/><circle cx="452.3" cy="35.8" r="1.2"/><circle cx="413.9" cy="34.9" r="1.2"/><circle cx="412.3" cy="37.7" r="1.2"/><circle cx="415.1" cy="38.1" r="1.2"/><circle cx="416.8" cy="37.7" r="1.2"/><circle cx="409.8" cy="40.9" r="1.2"/><circle cx="437.7" cy="39.0" r="1.2"/><circle cx="440.5" cy="40.0" r="1.2"/><circle cx="450.2" cy="41.5" r="1.2"/><circle cx="435.2" cy="44.0" r="1.2"/><circle cx="443.8" cy="44.0" r="1.2"/><circle cx="445.6" cy="47.2" r="1.2"/><circle cx="411.7" cy="44.0" r="1.2"/><circle cx="411.1" cy="46.6" r="1.2"/><circle cx="419.3" cy="44.0" r="1.2"/><circle cx="418.7" cy="47.8" r="1.2"/><circle cx="419.3" cy="49.1" r="1.2"/><circle cx="407.9" cy="49.1" r="1.2"/><circle cx="411.7" cy="51.4" r="1.2"/><circle cx="416.2" cy="49.7" r="1.2"/><circle cx="418.1" cy="51.9" r="1.2"/><circle cx="421.9" cy="51.0" r="1.2"/><circle cx="437.7" cy="51.4" r="1.2"/><circle cx="434.6" cy="52.3" r="1.2"/><circle cx="433.3" cy="53.9" r="1.2"/><circle cx="421.2" cy="53.9" r="1.2"/><circle cx="424.4" cy="55.5" r="1.2"/><circle cx="413.6" cy="55.2" r="1.2"/><circle cx="407.3" cy="56.1" r="1.2"/><circle cx="411.7" cy="57.7" r="1.2"/><circle cx="411.1" cy="59.0" r="1.2"/><circle cx="421.9" cy="58.2" r="1.2"/><circle cx="430.1" cy="57.7" r="1.2"/><circle cx="432.0" cy="56.7" r="1.2"/><circle cx="433.9" cy="58.0" r="1.2"/><circle cx="432.6" cy="59.5" r="1.2"/><circle cx="437.7" cy="59.3" r="1.2"/><circle cx="440.9" cy="59.9" r="1.2"/><circle cx="443.4" cy="59.0" r="1.2"/><circle cx="446.6" cy="59.3" r="1.2"/><circle cx="441.5" cy="62.4" r="1.2"/><circle cx="444.1" cy="61.8" r="1.2"/><circle cx="447.9" cy="62.8" r="1.2"/><circle cx="409.2" cy="61.8" r="1.2"/><circle cx="416.8" cy="61.2" r="1.2"/><circle cx="420.0" cy="63.1" r="1.2"/><circle cx="423.1" cy="62.4" r="1.2"/><circle cx="415.5" cy="64.3" r="1.2"/><circle cx="454.6" cy="74.5" r="1.2"/><circle cx="463.0" cy="73.7" r="1.2"/><circle cx="473.6" cy="74.0" r="1.2"/><circle cx="454.6" cy="82.8" r="1.2"/><circle cx="458.4" cy="85.1" r="1.2"/><circle cx="467.5" cy="82.1" r="1.2"/><circle cx="472.8" cy="82.8" r="1.2"/><circle cx="465.2" cy="85.1" r="1.2"/><circle cx="449.2" cy="82.5" r="1.2"/><circle cx="452.3" cy="86.6" r="1.2"/><circle cx="451.5" cy="93.5" r="1.2"/><circle cx="454.6" cy="97.3" r="1.2"/><circle cx="456.1" cy="100.3" r="1.2"/><circle cx="458.4" cy="102.6" r="1.2"/><circle cx="462.2" cy="91.2" r="1.2"/><circle cx="461.4" cy="92.0" r="1.2"/><circle cx="467.5" cy="100.3" r="1.2"/><circle cx="472.1" cy="96.5" r="1.2"/><circle cx="474.4" cy="105.7" r="1.2"/><circle cx="453.8" cy="104.1" r="1.2"/><circle cx="447.0" cy="102.6" r="1.2"/><circle cx="448.5" cy="100.3" r="1.2"/><circle cx="443.2" cy="105.7" r="1.2"/><circle cx="444.7" cy="109.5" r="1.2"/><circle cx="441.6" cy="113.3" r="1.2"/><circle cx="434.8" cy="117.1" r="1.2"/><circle cx="436.3" cy="110.2" r="1.2"/><circle cx="421.1" cy="117.8" r="1.2"/><circle cx="449.2" cy="61.0" r="1.2"/><circle cx="443.9" cy="61.5" r="1.2"/><circle cx="447.0" cy="65.3" r="1.2"/><circle cx="445.4" cy="71.4" r="1.2"/><circle cx="450.0" cy="75.2" r="1.2"/><circle cx="443.9" cy="79.8" r="1.2"/><circle cx="441.6" cy="67.6" r="1.2"/><circle cx="439.4" cy="73.7" r="1.2"/><circle cx="452.2" cy="32.6" r="1.2"/><circle cx="452.6" cy="35.4" r="1.2"/><circle cx="450.6" cy="41.2" r="1.2"/><circle cx="454.3" cy="74.7" r="1.2"/><circle cx="475.5" cy="74.2" r="1.2"/><circle cx="482.0" cy="65.6" r="1.2"/><circle cx="485.0" cy="69.9" r="1.2"/><circle cx="488.9" cy="72.5" r="1.2"/><circle cx="495.4" cy="73.6" r="1.2"/><circle cx="504.0" cy="70.8" r="1.2"/><circle cx="505.7" cy="70.4" r="1.2"/><circle cx="485.6" cy="75.8" r="1.2"/><circle cx="475.9" cy="79.0" r="1.2"/><circle cx="467.3" cy="82.2" r="1.2"/><circle cx="472.7" cy="83.3" r="1.2"/><circle cx="481.3" cy="81.6" r="1.2"/><circle cx="491.0" cy="78.6" r="1.2"/><circle cx="490.0" cy="81.6" r="1.2"/><circle cx="495.4" cy="81.8" r="1.2"/><circle cx="454.3" cy="82.9" r="1.2"/><circle cx="459.7" cy="82.9" r="1.2"/><circle cx="465.1" cy="85.9" r="1.2"/><circle cx="458.6" cy="85.5" r="1.2"/><circle cx="461.9" cy="92.0" r="1.2"/><circle cx="463.0" cy="91.5" r="1.2"/><circle cx="452.2" cy="94.1" r="1.2"/><circle cx="454.3" cy="95.2" r="1.2"/><circle cx="471.6" cy="96.7" r="1.2"/><circle cx="453.2" cy="98.4" r="1.2"/><circle cx="456.5" cy="100.6" r="1.2"/><circle cx="458.2" cy="102.8" r="1.2"/><circle cx="467.3" cy="100.6" r="1.2"/><circle cx="453.2" cy="104.5" r="1.2"/><circle cx="475.5" cy="105.3" r="1.2"/><circle cx="480.2" cy="108.2" r="1.2"/><circle cx="479.9" cy="113.3" r="1.2"/><circle cx="397.1" cy="146.2" r="1.2"/><circle cx="402.8" cy="140.1" r="1.2"/><circle cx="399.3" cy="134.9" r="1.2"/><circle cx="396.4" cy="138.4" r="1.2"/><circle cx="409.9" cy="133.0" r="1.2"/><circle cx="409.2" cy="130.6" r="1.2"/><circle cx="416.3" cy="133.4" r="1.2"/><circle cx="417.8" cy="130.6" r="1.2"/><circle cx="420.6" cy="125.6" r="1.2"/><circle cx="424.9" cy="119.2" r="1.2"/><circle cx="432.0" cy="125.6" r="1.2"/><circle cx="433.1" cy="125.9" r="1.2"/><circle cx="439.1" cy="126.7" r="1.2"/><circle cx="442.7" cy="134.1" r="1.2"/><circle cx="434.8" cy="117.8" r="1.2"/><circle cx="441.9" cy="113.9" r="1.2"/><circle cx="444.1" cy="111.4" r="1.2"/><circle cx="443.4" cy="104.3" r="1.2"/><circle cx="447.6" cy="102.1" r="1.2"/><circle cx="453.3" cy="104.3" r="1.2"/><circle cx="439.1" cy="107.8" r="1.2"/><circle cx="435.5" cy="112.8" r="1.2"/><circle cx="430.6" cy="110.0" r="1.2"/><circle cx="427.7" cy="111.4" r="1.2"/><circle cx="413.5" cy="122.0" r="1.2"/><circle cx="407.8" cy="127.0" r="1.2"/><circle cx="403.5" cy="129.9" r="1.2"/><circle cx="391.2" cy="141.6" r="1.2"/><circle cx="396.9" cy="146.3" r="1.2"/><circle cx="371.4" cy="150.4" r="1.2"/><circle cx="368.3" cy="152.0" r="1.2"/><circle cx="376.6" cy="149.4" r="1.2"/></g>
<line x1="80.00" y1="155.60" x2="252.90" y2="25.70" stroke="#1010ff" stroke-width="1.0"/>
<line x1="361.00" y1="155.60" x2="533.70" y2="25.60" stroke="#1010ff" stroke-width="1.0"/>
<text transform="translate(54.61,16.93) scale(1.0550,1)" font-size="17.20" fill="#000">Ne</text>
<path d="M93.50,2.40H89.80V21.35H93.50" fill="none" stroke="#000" stroke-width="1.45"/>
<text transform="translate(96.64,16.80) scale(0.9671,1)" font-size="15.14" fill="#000">x</text>
<path d="M117.9,7.6L121.6,4.9V16.9" fill="none" stroke="#000" stroke-width="1.55"/>
<text transform="translate(126.44,17.22) scale(1.0515,1)" font-size="18.50" fill="#000">0</text>
<text transform="translate(137.71,8.48) scale(1.0730,1)" font-size="12.71" fill="#000">8</text>
<text transform="translate(154.32,17.33) scale(1.1715,1)" font-size="17.71" fill="#000">cm</text>
<path d="M183.6,4.6H189.5" stroke="#000" stroke-width="1.2"/>
<text transform="translate(191.27,8.18) scale(1.1200,1)" font-size="12.43" fill="#000">3</text>
<path d="M200.30,2.40H203.40V21.35H200.30" fill="none" stroke="#000" stroke-width="1.45"/>
<line x1="207.80" y1="21.20" x2="218.40" y2="2.60" stroke="#000" stroke-width="1.35"/>
<text transform="translate(219.96,17.42) scale(1.0952,1)" font-size="17.97" fill="#000">closed</text>
<text transform="translate(372.69,16.90) scale(0.7510,1)" font-size="18.60" fill="#000" stroke="#000" stroke-width="0.00">T</text>
<text transform="translate(381.82,16.90) scale(1.2321,1)" font-size="16.91" fill="#000">m</text>
<path d="M414.90,2.40H411.50V21.20H414.90" fill="none" stroke="#000" stroke-width="1.45"/>
<text transform="translate(416.52,17.00) scale(0.9618,1)" font-size="17.44" fill="#000">MK</text>
<path d="M444.50,2.40H447.50V21.20H444.50" fill="none" stroke="#000" stroke-width="1.45"/>
<line x1="451.70" y1="21.20" x2="461.20" y2="2.60" stroke="#000" stroke-width="1.35"/>
<text transform="translate(464.27,17.42) scale(1.0872,1)" font-size="17.97" fill="#000">closed</text>
<text transform="translate(67.80,177.00) scale(1.1000,1)" font-size="15.30" fill="#000">0.0</text>
<text transform="translate(111.05,177.00) scale(1.1000,1)" font-size="15.30" fill="#000">0.5</text>
<text transform="translate(153.94,177.00) scale(1.1000,1)" font-size="15.30" fill="#000">1.0</text>
<text transform="translate(197.19,177.00) scale(1.1000,1)" font-size="15.30" fill="#000">1.5</text>
<text transform="translate(240.61,177.00) scale(1.1000,1)" font-size="15.30" fill="#000">2.0</text>
<text transform="translate(51.96,156.10) scale(1.1000,1)" font-size="15.30" fill="#000">0.0</text>
<text transform="translate(52.01,129.03) scale(1.1000,1)" font-size="15.30" fill="#000">0.5</text>
<text transform="translate(51.96,96.55) scale(1.1000,1)" font-size="15.30" fill="#000">1.0</text>
<text transform="translate(52.01,64.07) scale(1.1000,1)" font-size="15.30" fill="#000">1.5</text>
<text transform="translate(51.96,35.80) scale(1.1000,1)" font-size="15.30" fill="#000">2.0</text>
<text transform="translate(145.58,194.30) scale(0.9263,1)" font-size="13.23" fill="#000" stroke="#000" stroke-width="0.40">AIA</text>
<path d="M166.80,190.1H175.90" stroke="#000" stroke-width="1.2"/>
<text transform="translate(177.48,194.27) scale(1.2232,1)" font-size="13.28" fill="#000">3</text>
<text transform="translate(39.00,111.62) rotate(-90) scale(0.8681,1)" font-size="14.40" fill="#000" stroke="#000" stroke-width="0.15">AIA</text>
<path d="M34.40,89.4V82.6" stroke="#000" stroke-width="1.2"/>
<text transform="translate(39.00,80.37) rotate(-90) scale(1.1301,1)" font-size="14.40" fill="#000">4</text>
<text transform="translate(348.49,177.00) scale(1.1000,1)" font-size="15.30" fill="#000">1.0</text>
<text transform="translate(391.69,177.00) scale(1.1000,1)" font-size="15.30" fill="#000">1.5</text>
<text transform="translate(435.06,177.00) scale(1.1000,1)" font-size="15.30" fill="#000">2.0</text>
<text transform="translate(478.26,177.00) scale(1.1000,1)" font-size="15.30" fill="#000">2.5</text>
<text transform="translate(521.51,177.00) scale(1.1000,1)" font-size="15.30" fill="#000">3.0</text>
<text transform="translate(332.96,156.10) scale(1.1000,1)" font-size="15.30" fill="#000">1.0</text>
<text transform="translate(333.01,129.00) scale(1.1000,1)" font-size="15.30" fill="#000">1.5</text>
<text transform="translate(332.96,96.50) scale(1.1000,1)" font-size="15.30" fill="#000">2.0</text>
<text transform="translate(333.01,64.00) scale(1.1000,1)" font-size="15.30" fill="#000">2.5</text>
<text transform="translate(332.96,35.80) scale(1.1000,1)" font-size="15.30" fill="#000">3.0</text>
<text transform="translate(426.58,194.30) scale(0.9263,1)" font-size="13.23" fill="#000" stroke="#000" stroke-width="0.40">AIA</text>
<path d="M447.80,190.1H456.90" stroke="#000" stroke-width="1.2"/>
<text transform="translate(458.48,194.27) scale(1.2232,1)" font-size="13.28" fill="#000">3</text>
<text transform="translate(320.00,111.62) rotate(-90) scale(0.8681,1)" font-size="14.40" fill="#000" stroke="#000" stroke-width="0.15">AIA</text>
<path d="M315.40,89.4V82.6" stroke="#000" stroke-width="1.2"/>
<text transform="translate(320.00,80.37) rotate(-90) scale(1.1301,1)" font-size="14.40" fill="#000">4</text>
<text transform="translate(192.42,152.76) skewX(-14) scale(0.98,1)" font-size="13.67" fill="#0000ff">ρ</text>
<text transform="translate(201.30,152.60) scale(1.2108,1)" font-size="15.30" fill="#0000ff">=</text>
<text transform="translate(212.95,152.56) scale(1.1220,1)" font-size="14.83" fill="#0000ff">0.90</text>
<text transform="translate(473.42,152.76) skewX(-14) scale(0.98,1)" font-size="13.67" fill="#0000ff">ρ</text>
<text transform="translate(482.30,152.60) scale(1.2108,1)" font-size="15.30" fill="#0000ff">=</text>
<text transform="translate(493.95,152.56) scale(1.1220,1)" font-size="14.83" fill="#0000ff">0.51</text>
<rect x="80.0" y="217.4" width="172.60" height="130.00" fill="none" stroke="#d6d6d6" stroke-width="1.3"/>
<g fill="#ffe0e0" stroke="#f4b8b8" stroke-width="0.7"><rect x="112.00" y="347.00" width="5.02" height="0.40"/><rect x="117.02" y="347.00" width="5.02" height="0.40"/><rect x="122.04" y="347.00" width="5.02" height="0.40"/><rect x="127.06" y="347.00" width="5.02" height="0.40"/><rect x="132.08" y="346.90" width="5.02" height="0.50"/><rect x="137.10" y="346.90" width="5.02" height="0.50"/><rect x="142.12" y="346.30" width="5.02" height="1.10"/><rect x="147.14" y="345.20" width="5.02" height="2.20"/><rect x="152.16" y="343.40" width="5.02" height="4.00"/><rect x="157.18" y="333.30" width="5.02" height="14.10"/><rect x="162.20" y="316.30" width="5.02" height="31.10"/><rect x="167.22" y="298.00" width="5.02" height="49.40"/><rect x="172.24" y="267.00" width="5.02" height="80.40"/><rect x="177.26" y="223.10" width="5.02" height="124.30"/><rect x="182.28" y="241.20" width="5.02" height="106.20"/><rect x="187.30" y="282.20" width="5.02" height="65.20"/><rect x="192.32" y="300.20" width="5.02" height="47.20"/><rect x="197.34" y="322.90" width="5.02" height="24.50"/><rect x="202.36" y="330.20" width="5.02" height="17.20"/><rect x="207.38" y="336.40" width="5.02" height="11.00"/><rect x="212.40" y="340.40" width="5.02" height="7.00"/><rect x="217.42" y="342.80" width="5.02" height="4.60"/><rect x="222.44" y="344.40" width="5.02" height="3.00"/><rect x="227.46" y="344.40" width="5.02" height="3.00"/><rect x="232.48" y="346.20" width="5.02" height="1.20"/><rect x="237.50" y="346.20" width="5.02" height="1.20"/><rect x="242.52" y="346.60" width="5.02" height="0.80"/><rect x="247.54" y="341.20" width="4.66" height="6.20"/></g>
<path d="M79.55,347.40V349.00M87.98,347.40V349.00M96.40,347.40V350.90M96.40,217.40V219.60M104.83,347.40V349.00M113.25,347.40V349.00M121.68,347.40V349.00M130.10,347.40V350.90M130.10,217.40V219.60M138.53,347.40V349.00M146.95,347.40V349.00M155.38,347.40V349.00M163.80,347.40V350.90M163.80,217.40V219.60M172.23,347.40V349.00M180.65,347.40V349.00M189.07,347.40V349.00M197.50,347.40V350.90M197.50,217.40V219.60M205.93,347.40V349.00M214.35,347.40V349.00M222.78,347.40V349.00M231.20,347.40V350.90M231.20,217.40V219.60M239.62,347.40V349.00M248.05,347.40V349.00M80.00,225.00H83.20M252.60,225.00H249.40M80.00,255.90H83.20M252.60,255.90H249.40M80.00,286.60H83.20M252.60,286.60H249.40M80.00,317.00H83.20M252.60,317.00H249.40M80.00,347.40H83.20M252.60,347.40H249.40" stroke="#bdbdbd" stroke-width="0.9" fill="none"/>
<line x1="163.80" y1="217.40" x2="163.80" y2="347.40" stroke="#0000ff" stroke-width="1.7"/>
<text transform="translate(23.28,231.10) scale(1.1000,1)" font-size="15.30" fill="#000">0.2000</text>
<text transform="translate(23.28,262.00) scale(1.1000,1)" font-size="15.30" fill="#000">0.1500</text>
<text transform="translate(23.28,292.70) scale(1.1000,1)" font-size="15.30" fill="#000">0.1000</text>
<text transform="translate(23.28,323.10) scale(1.1000,1)" font-size="15.30" fill="#000">0.0500</text>
<text transform="translate(23.28,347.60) scale(1.1000,1)" font-size="15.30" fill="#000">0.0000</text>
<text transform="translate(84.94,372.00) scale(1.1000,1)" font-size="15.30" fill="#000">0.6</text>
<text transform="translate(118.64,372.00) scale(1.1000,1)" font-size="15.30" fill="#000">0.8</text>
<text transform="translate(151.99,372.00) scale(1.1000,1)" font-size="15.30" fill="#000">1.0</text>
<text transform="translate(185.78,372.00) scale(1.1000,1)" font-size="15.30" fill="#000">1.2</text>
<text transform="translate(219.31,372.00) scale(1.1000,1)" font-size="15.30" fill="#000">1.4</text>
<text transform="translate(96.72,389.87) scale(1.1578,1)" font-size="13.48" fill="#000">Ratio</text>
<text transform="translate(140.98,389.90) scale(0.8778,1)" font-size="14.10" fill="#000" stroke="#000" stroke-width="0.40">AIA</text>
<path d="M162.50,385.4H170.40M215.60,385.4H223.50" stroke="#000" stroke-width="1.2"/>
<text transform="translate(172.08,389.90) scale(1.3090,1)" font-size="14.10" fill="#000">4</text>
<line x1="184.00" y1="392.3" x2="192.30" y2="379.7" stroke="#000" stroke-width="1.25"/>
<text transform="translate(193.58,389.90) scale(0.8866,1)" font-size="14.10" fill="#000" stroke="#000" stroke-width="0.40">AIA</text>
<text transform="translate(225.61,389.96) scale(1.0793,1)" font-size="14.27" fill="#000">3</text>
<text transform="translate(11.00,350.23) rotate(-90) scale(1.0295,1)" font-size="14.60" fill="#000">Relative</text>
<text transform="translate(11.00,287.64) rotate(-90) scale(1.0391,1)" font-size="14.60" fill="#000">Frequency</text>
<rect x="361.1" y="217.4" width="172.50" height="130.00" fill="none" stroke="#d6d6d6" stroke-width="1.3"/>
<g fill="#ffe0e0" stroke="#f4b8b8" stroke-width="0.7"><rect x="391.60" y="347.00" width="5.04" height="0.40"/><rect x="396.64" y="347.00" width="5.04" height="0.40"/><rect x="401.68" y="347.00" width="5.04" height="0.40"/><rect x="406.72" y="347.00" width="5.04" height="0.40"/><rect x="411.76" y="347.00" width="5.04" height="0.40"/><rect x="416.80" y="346.50" width="5.04" height="0.90"/><rect x="421.84" y="346.30" width="5.04" height="1.10"/><rect x="426.88" y="345.00" width="5.04" height="2.40"/><rect x="431.92" y="343.10" width="5.04" height="4.30"/><rect x="436.96" y="338.30" width="5.04" height="9.10"/><rect x="442.00" y="312.60" width="5.04" height="34.80"/><rect x="447.04" y="316.00" width="5.04" height="31.40"/><rect x="452.08" y="299.10" width="5.04" height="48.30"/><rect x="457.12" y="263.30" width="5.04" height="84.10"/><rect x="462.16" y="223.10" width="5.04" height="124.30"/><rect x="467.20" y="244.20" width="5.04" height="103.20"/><rect x="472.24" y="270.60" width="5.04" height="76.80"/><rect x="477.28" y="288.50" width="5.04" height="58.90"/><rect x="482.32" y="309.00" width="5.04" height="38.40"/><rect x="487.36" y="314.40" width="5.04" height="33.00"/><rect x="492.40" y="325.20" width="5.04" height="22.20"/><rect x="497.44" y="332.40" width="5.04" height="15.00"/><rect x="502.48" y="338.20" width="5.04" height="9.20"/><rect x="507.52" y="340.30" width="5.04" height="7.10"/><rect x="512.56" y="342.30" width="5.04" height="5.10"/><rect x="517.60" y="344.40" width="5.04" height="3.00"/><rect x="522.64" y="345.10" width="5.04" height="2.30"/><rect x="527.68" y="330.10" width="5.04" height="17.30"/></g>
<path d="M368.98,347.40V349.00M377.40,347.40V350.90M377.40,217.40V219.60M385.83,347.40V349.00M394.25,347.40V349.00M402.68,347.40V349.00M411.10,347.40V350.90M411.10,217.40V219.60M419.53,347.40V349.00M427.95,347.40V349.00M436.38,347.40V349.00M444.80,347.40V350.90M444.80,217.40V219.60M453.23,347.40V349.00M461.65,347.40V349.00M470.07,347.40V349.00M478.50,347.40V350.90M478.50,217.40V219.60M486.93,347.40V349.00M495.35,347.40V349.00M503.78,347.40V349.00M512.20,347.40V350.90M512.20,217.40V219.60M520.62,347.40V349.00M529.05,347.40V349.00M361.10,236.90H364.30M533.60,236.90H530.40M361.10,273.60H364.30M533.60,273.60H530.40M361.10,310.30H364.30M533.60,310.30H530.40M361.10,347.20H364.30M533.60,347.20H530.40" stroke="#bdbdbd" stroke-width="0.9" fill="none"/>
<line x1="444.80" y1="217.40" x2="444.80" y2="347.40" stroke="#0000ff" stroke-width="1.7"/>
<text transform="translate(304.38,243.00) scale(1.1000,1)" font-size="15.30" fill="#000">0.1500</text>
<text transform="translate(304.38,279.70) scale(1.1000,1)" font-size="15.30" fill="#000">0.1000</text>
<text transform="translate(304.38,316.40) scale(1.1000,1)" font-size="15.30" fill="#000">0.0500</text>
<text transform="translate(304.38,347.60) scale(1.1000,1)" font-size="15.30" fill="#000">0.0000</text>
<text transform="translate(365.94,372.00) scale(1.1000,1)" font-size="15.30" fill="#000">0.6</text>
<text transform="translate(399.64,372.00) scale(1.1000,1)" font-size="15.30" fill="#000">0.8</text>
<text transform="translate(432.99,372.00) scale(1.1000,1)" font-size="15.30" fill="#000">1.0</text>
<text transform="translate(466.78,372.00) scale(1.1000,1)" font-size="15.30" fill="#000">1.2</text>
<text transform="translate(500.31,372.00) scale(1.1000,1)" font-size="15.30" fill="#000">1.4</text>
<text transform="translate(377.82,389.87) scale(1.1578,1)" font-size="13.48" fill="#000">Ratio</text>
<text transform="translate(422.08,389.90) scale(0.8778,1)" font-size="14.10" fill="#000" stroke="#000" stroke-width="0.40">AIA</text>
<path d="M443.60,385.4H451.50M496.70,385.4H504.60" stroke="#000" stroke-width="1.2"/>
<text transform="translate(453.18,389.90) scale(1.3090,1)" font-size="14.10" fill="#000">4</text>
<line x1="465.10" y1="392.3" x2="473.40" y2="379.7" stroke="#000" stroke-width="1.25"/>
<text transform="translate(474.68,389.90) scale(0.8866,1)" font-size="14.10" fill="#000" stroke="#000" stroke-width="0.40">AIA</text>
<text transform="translate(506.71,389.96) scale(1.0793,1)" font-size="14.27" fill="#000">3</text>
<text transform="translate(292.10,350.23) rotate(-90) scale(1.0295,1)" font-size="14.60" fill="#000">Relative</text>
<text transform="translate(292.10,287.64) rotate(-90) scale(1.0391,1)" font-size="14.60" fill="#000">Frequency</text>
<text transform="translate(134.91,232.20) scale(0.9700,1)" font-size="15.00" fill="#0000ff">Mean</text>
<text transform="translate(135.42,253.50) scale(1.0000,1)" font-size="15.00" fill="#0000ff">Stdev</text>
<text transform="translate(415.51,232.20) scale(0.9700,1)" font-size="15.00" fill="#0000ff">Mean</text>
<text transform="translate(416.02,253.50) scale(1.0000,1)" font-size="15.00" fill="#0000ff">Stdev</text>
<text transform="translate(180.11,232.20) scale(1.2213,1)" font-size="15.00" fill="#0000ff">=</text>
<text transform="translate(200.46,232.20) scale(0.9761,1)" font-size="15.30" fill="#0000ff">1.11</text>
<text transform="translate(183.20,253.50) scale(1.0978,1)" font-size="15.00" fill="#0000ff">=</text>
<text transform="translate(193.65,253.50) scale(1.0943,1)" font-size="15.30" fill="#0000ff">0.092</text>
<text transform="translate(461.02,232.20) scale(1.2075,1)" font-size="15.00" fill="#0000ff">=</text>
<text transform="translate(481.58,232.20) scale(1.0440,1)" font-size="15.30" fill="#0000ff">1.15</text>
<text transform="translate(463.11,253.50) scale(1.2213,1)" font-size="15.00" fill="#0000ff">=</text>
<text transform="translate(482.17,253.50) scale(1.0481,1)" font-size="15.30" fill="#0000ff">0.11</text>
</svg></body></html>
